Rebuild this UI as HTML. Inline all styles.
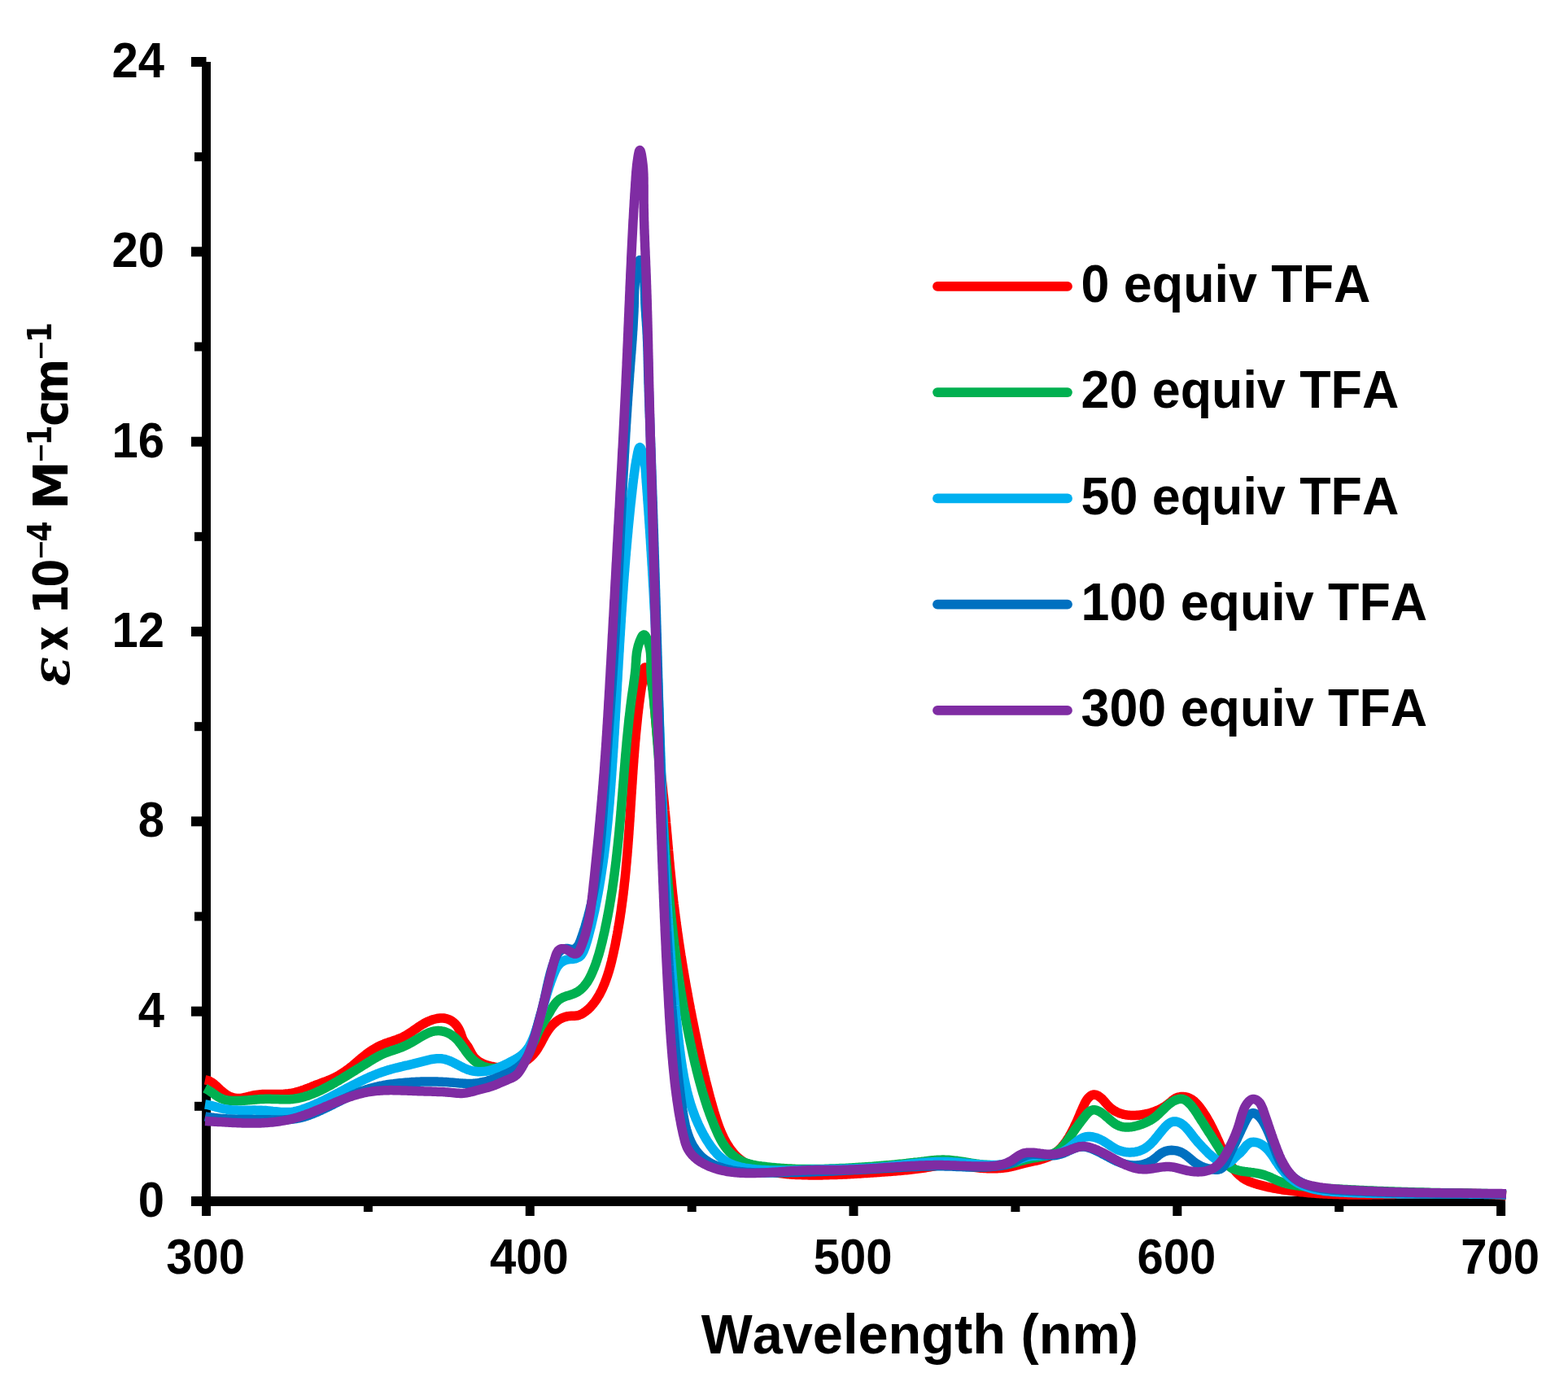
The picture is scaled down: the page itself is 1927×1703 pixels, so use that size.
<!DOCTYPE html>
<html><head><meta charset="utf-8"><title>UV-vis spectra</title><style>html,body{margin:0;padding:0;background:#fff;}svg{display:block;}text{font-kerning:none;}</style></head><body>
<svg xmlns="http://www.w3.org/2000/svg" width="1927" height="1703" viewBox="0 0 1927 1703">
<rect x="248" y="76" width="11" height="1406" fill="#000"/>
<rect x="235" y="1470" width="1615" height="12" fill="#000"/>
<rect x="235" y="1470.0" width="18.5" height="12" fill="#000"/>
<rect x="239" y="1353.8" width="14.5" height="11" fill="#000"/>
<rect x="235" y="1236.7" width="18.5" height="12" fill="#000"/>
<rect x="239" y="1120.5" width="14.5" height="11" fill="#000"/>
<rect x="235" y="1003.3" width="18.5" height="12" fill="#000"/>
<rect x="239" y="887.2" width="14.5" height="11" fill="#000"/>
<rect x="235" y="770.0" width="18.5" height="12" fill="#000"/>
<rect x="239" y="653.8" width="14.5" height="11" fill="#000"/>
<rect x="235" y="536.7" width="18.5" height="12" fill="#000"/>
<rect x="239" y="420.5" width="14.5" height="11" fill="#000"/>
<rect x="235" y="303.3" width="18.5" height="12" fill="#000"/>
<rect x="239" y="187.2" width="14.5" height="11" fill="#000"/>
<rect x="235" y="70.0" width="18.5" height="12" fill="#000"/>
<rect x="248.0" y="1476" width="11" height="18" fill="#000"/>
<rect x="446.9" y="1476" width="11" height="13" fill="#000"/>
<rect x="645.8" y="1476" width="11" height="18" fill="#000"/>
<rect x="844.7" y="1476" width="11" height="13" fill="#000"/>
<rect x="1043.5" y="1476" width="11" height="18" fill="#000"/>
<rect x="1242.4" y="1476" width="11" height="13" fill="#000"/>
<rect x="1441.3" y="1476" width="11" height="18" fill="#000"/>
<rect x="1640.2" y="1476" width="11" height="13" fill="#000"/>
<rect x="1839.1" y="1476" width="11" height="18" fill="#000"/>
<path d="M252.0,1326.8L254.0,1327.2 255.9,1327.8 257.8,1328.6 259.5,1329.5 261.1,1330.6 262.7,1331.7 264.2,1333.0 265.7,1334.3 267.2,1335.7 268.7,1337.1 270.1,1338.5 271.6,1339.8 273.2,1341.2 274.8,1342.5 276.4,1343.7 278.1,1344.9 279.8,1345.9 281.5,1346.9 283.3,1347.7 285.2,1348.4 287.0,1348.9 288.9,1349.3 290.8,1349.5 292.8,1349.5 294.7,1349.4 296.7,1349.2 298.7,1348.9 300.7,1348.5 302.7,1348.0 304.7,1347.5 306.7,1347.0 308.7,1346.6 310.7,1346.1 312.7,1345.7 314.7,1345.4 316.7,1345.1 318.6,1344.9 320.6,1344.7 322.5,1344.6 324.5,1344.6 326.5,1344.5 328.5,1344.5 330.5,1344.5 332.5,1344.5 334.5,1344.5 336.5,1344.5 338.5,1344.5 340.5,1344.5 342.6,1344.5 344.6,1344.4 346.6,1344.4 348.6,1344.3 350.6,1344.1 352.6,1344.0 354.6,1343.8 356.6,1343.5 358.6,1343.2 360.5,1342.8 362.5,1342.4 364.4,1341.9 366.3,1341.4 368.2,1340.8 370.1,1340.2 372.0,1339.5 373.9,1338.9 375.7,1338.2 377.6,1337.5 379.5,1336.7 381.3,1336.0 383.2,1335.2 385.1,1334.5 386.9,1333.7 388.8,1333.0 390.7,1332.3 392.6,1331.6 394.4,1330.9 396.3,1330.2 398.2,1329.5 400.1,1328.8 401.9,1328.1 403.8,1327.3 405.6,1326.6 407.5,1325.8 409.3,1325.0 411.1,1324.1 412.9,1323.2 414.6,1322.3 416.4,1321.3 418.1,1320.3 419.8,1319.2 421.5,1318.1 423.1,1317.0 424.8,1315.9 426.4,1314.7 428.0,1313.5 429.6,1312.3 431.2,1311.0 432.8,1309.8 434.3,1308.5 435.9,1307.2 437.4,1305.9 438.9,1304.6 440.4,1303.3 442.0,1302.0 443.5,1300.7 445.0,1299.4 446.6,1298.1 448.1,1296.9 449.7,1295.6 451.3,1294.4 452.9,1293.3 454.5,1292.1 456.2,1291.0 457.9,1289.9 459.6,1288.9 461.3,1287.9 463.0,1286.9 464.8,1286.0 466.6,1285.1 468.4,1284.3 470.3,1283.5 472.1,1282.7 474.0,1282.0 475.9,1281.3 477.8,1280.6 479.8,1280.0 481.7,1279.4 483.6,1278.7 485.5,1278.1 487.5,1277.4 489.3,1276.7 491.2,1276.0 493.0,1275.2 494.8,1274.4 496.6,1273.5 498.3,1272.5 500.0,1271.6 501.6,1270.5 503.3,1269.5 504.9,1268.4 506.6,1267.3 508.2,1266.1 509.8,1265.0 511.4,1263.9 513.1,1262.7 514.7,1261.6 516.4,1260.5 518.1,1259.4 519.8,1258.4 521.6,1257.4 523.4,1256.4 525.2,1255.5 527.1,1254.6 529.0,1253.9 531.0,1253.1 533.0,1252.5 535.0,1252.0 537.0,1251.5 539.0,1251.2 541.0,1251.0 542.9,1251.0 544.9,1251.0 546.8,1251.3 548.7,1251.7 550.5,1252.2 552.3,1253.0 554.1,1253.9 555.7,1254.9 557.3,1256.2 558.8,1257.5 560.2,1259.0 561.5,1260.5 562.6,1262.2 563.7,1264.0 564.6,1265.8 565.4,1267.7 566.2,1269.6 566.8,1271.5 567.5,1273.4 568.2,1275.3 569.0,1277.1 569.9,1278.8 570.9,1280.4 572.1,1282.0 573.2,1283.6 574.4,1285.2 575.5,1286.9 576.5,1288.8 577.5,1290.6 578.5,1292.5 579.5,1294.4 580.5,1296.1 581.6,1297.8 582.9,1299.4 584.2,1300.8 585.6,1302.1 587.1,1303.3 588.7,1304.4 590.3,1305.3 592.0,1306.2 593.8,1307.1 595.6,1307.8 597.5,1308.5 599.3,1309.1 601.3,1309.6 603.2,1310.1 605.2,1310.5 607.2,1310.9 609.2,1311.2 611.2,1311.4 613.3,1311.5 615.3,1311.6 617.4,1311.7 619.4,1311.6 621.5,1311.5 623.5,1311.3 625.6,1311.1 627.6,1310.8 629.6,1310.4 631.6,1309.9 633.5,1309.4 635.4,1308.8 637.3,1308.1 639.2,1307.3 641.0,1306.5 642.7,1305.6 644.5,1304.6 646.1,1303.6 647.7,1302.5 649.3,1301.3 650.8,1300.1 652.3,1298.7 653.7,1297.4 655.1,1296.0 656.4,1294.5 657.6,1293.0 658.8,1291.4 659.9,1289.8 661.0,1288.1 662.0,1286.4 663.0,1284.7 664.0,1283.0 665.0,1281.2 665.9,1279.4 666.8,1277.6 667.8,1275.9 668.7,1274.1 669.7,1272.3 670.7,1270.6 671.8,1268.9 672.9,1267.2 674.0,1265.5 675.2,1263.9 676.4,1262.3 677.8,1260.7 679.2,1259.2 680.6,1257.8 682.1,1256.5 683.7,1255.2 685.3,1254.0 687.0,1252.9 688.7,1251.9 690.5,1251.0 692.3,1250.2 694.1,1249.6 696.0,1249.1 697.9,1248.6 699.9,1248.4 701.9,1248.3 704.0,1248.2 706.0,1248.2 708.0,1248.1 710.0,1247.8 711.8,1247.2 713.6,1246.5 715.4,1245.6 717.0,1244.6 718.6,1243.5 720.2,1242.3 721.7,1241.1 723.2,1239.8 724.6,1238.5 726.0,1237.1 727.3,1235.6 728.6,1234.1 729.8,1232.5 731.0,1231.0 732.2,1229.3 733.3,1227.6 734.4,1225.9 735.4,1224.2 736.5,1222.4 737.4,1220.6 738.4,1218.8 739.3,1217.0 740.2,1215.1 741.0,1213.2 741.8,1211.3 742.6,1209.4 743.4,1207.5 744.1,1205.6 744.8,1203.7 745.5,1201.8 746.1,1199.9 746.8,1198.0 747.4,1196.1 748.0,1194.2 748.6,1192.3 749.1,1190.3 749.7,1188.4 750.2,1186.5 750.7,1184.5 751.2,1182.6 751.7,1180.7 752.1,1178.7 752.6,1176.8 753.0,1174.9 753.5,1172.9 753.9,1171.0 754.3,1169.0 754.7,1167.1 755.2,1165.1 755.6,1163.2 756.0,1161.3 756.4,1159.3 756.7,1157.4 757.1,1155.4 757.5,1153.4 757.9,1151.5 758.2,1149.5 758.6,1147.6 758.9,1145.6 759.3,1143.7 759.6,1141.7 760.0,1139.7 760.3,1137.8 760.6,1135.8 761.0,1133.8 761.3,1131.9 761.6,1129.9 761.9,1127.9 762.2,1126.0 762.5,1124.0 762.8,1122.0 763.1,1120.1 763.4,1118.1 763.6,1116.1 763.9,1114.1 764.2,1112.2 764.4,1110.2 764.7,1108.2 765.0,1106.2 765.2,1104.3 765.5,1102.3 765.7,1100.3 766.0,1098.3 766.2,1096.3 766.4,1094.3 766.7,1092.4 766.9,1090.4 767.1,1088.4 767.3,1086.4 767.5,1084.4 767.8,1082.4 768.0,1080.4 768.2,1078.5 768.4,1076.5 768.6,1074.5 768.8,1072.5 769.0,1070.5 769.2,1068.5 769.3,1066.5 769.5,1064.5 769.7,1062.5 769.9,1060.5 770.1,1058.5 770.2,1056.5 770.4,1054.5 770.6,1052.5 770.8,1050.6 770.9,1048.6 771.1,1046.6 771.2,1044.6 771.4,1042.6 771.6,1040.6 771.7,1038.6 771.9,1036.6 772.0,1034.6 772.2,1032.6 772.3,1030.6 772.5,1028.6 772.6,1026.6 772.8,1024.6 772.9,1022.6 773.0,1020.6 773.2,1018.6 773.3,1016.6 773.5,1014.6 773.6,1012.6 773.7,1010.6 773.9,1008.6 774.0,1006.6 774.1,1004.6 774.3,1002.6 774.4,1000.5 774.5,998.5 774.7,996.5 774.8,994.5 774.9,992.5 775.0,990.5 775.2,988.5 775.3,986.5 775.4,984.5 775.6,982.5 775.7,980.5 775.8,978.5 775.9,976.5 776.1,974.5 776.2,972.5 776.3,970.5 776.5,968.5 776.6,966.5 776.7,964.5 776.9,962.5 777.0,960.5 777.1,958.5 777.3,956.5 777.4,954.5 777.5,952.5 777.7,950.5 777.8,948.5 777.9,946.5 778.1,944.5 778.2,942.5 778.4,940.5 778.5,938.5 778.7,936.5 778.8,934.5 778.9,932.5 779.1,930.5 779.3,928.5 779.4,926.5 779.6,924.5 779.7,922.5 779.9,920.6 780.0,918.6 780.2,916.6 780.4,914.6 780.5,912.6 780.7,910.6 780.9,908.6 781.1,906.6 781.2,904.6 781.4,902.6 781.6,900.7 781.8,898.7 782.0,896.7 782.2,894.7 782.4,892.7 782.6,890.7 782.8,888.7 783.0,886.8 783.2,884.8 783.4,882.8 783.6,880.8 783.8,878.8 784.0,876.9 784.3,874.9 784.5,872.9 784.7,870.9 785.0,869.0 785.2,867.0 785.4,865.0 785.7,863.1 786.0,861.1 786.2,859.2 786.5,857.2 786.8,855.3 787.0,853.3 787.3,851.4 787.6,849.5 787.9,847.6 788.2,845.6 788.5,843.7 788.9,841.8 789.2,839.9 789.5,838.0 789.8,836.0 790.1,833.9 790.5,831.7 790.7,829.3 791.0,826.7 791.3,824.2 791.6,822.0 792.0,820.5 792.6,819.9 793.3,820.5 794.1,822.0 795.0,824.1 796.0,826.5 797.0,829.0 797.9,831.5 798.8,833.7 799.6,835.8 800.2,837.6 800.8,839.3 801.2,840.9 801.6,842.6 802.0,844.3 802.3,846.0 802.6,847.8 802.8,849.7 803.1,851.6 803.3,853.5 803.5,855.5 803.6,857.5 803.8,859.5 803.9,861.5 804.1,863.5 804.2,865.6 804.4,867.6 804.5,869.6 804.7,871.6 804.9,873.7 805.0,875.7 805.2,877.7 805.3,879.7 805.5,881.7 805.7,883.7 805.9,885.7 806.0,887.7 806.2,889.8 806.4,891.8 806.6,893.8 806.8,895.8 807.0,897.8 807.2,899.8 807.3,901.8 807.5,903.8 807.7,905.8 807.9,907.8 808.1,909.8 808.3,911.8 808.5,913.8 808.7,915.8 808.9,917.8 809.1,919.7 809.3,921.7 809.6,923.7 809.8,925.7 810.0,927.7 810.2,929.7 810.4,931.7 810.6,933.7 810.8,935.7 811.0,937.6 811.2,939.6 811.5,941.6 811.7,943.6 811.9,945.6 812.1,947.6 812.3,949.5 812.5,951.5 812.7,953.5 812.9,955.5 813.2,957.5 813.4,959.5 813.6,961.4 813.8,963.4 814.0,965.4 814.2,967.4 814.4,969.4 814.6,971.4 814.8,973.3 815.0,975.3 815.3,977.3 815.5,979.3 815.7,981.3 815.9,983.3 816.1,985.2 816.3,987.2 816.5,989.2 816.7,991.2 816.9,993.2 817.0,995.2 817.2,997.2 817.4,999.1 817.6,1001.1 817.8,1003.1 818.0,1005.1 818.2,1007.1 818.4,1009.1 818.5,1011.1 818.7,1013.1 818.9,1015.1 819.1,1017.1 819.3,1019.1 819.4,1021.0 819.6,1023.0 819.8,1025.0 820.0,1027.0 820.1,1029.0 820.3,1031.0 820.5,1033.0 820.7,1035.0 820.8,1037.0 821.0,1039.0 821.2,1041.0 821.4,1043.0 821.5,1045.0 821.7,1047.0 821.9,1049.0 822.1,1051.0 822.2,1053.0 822.4,1055.0 822.6,1057.0 822.8,1059.0 823.0,1060.9 823.1,1062.9 823.3,1064.9 823.5,1066.9 823.7,1068.9 823.9,1070.9 824.1,1072.9 824.3,1074.9 824.5,1076.9 824.7,1078.9 824.9,1080.9 825.1,1082.9 825.3,1084.9 825.5,1086.9 825.7,1088.9 825.9,1090.9 826.1,1092.8 826.3,1094.8 826.5,1096.8 826.7,1098.8 827.0,1100.8 827.2,1102.8 827.4,1104.8 827.6,1106.8 827.9,1108.8 828.1,1110.8 828.4,1112.7 828.6,1114.7 828.8,1116.7 829.1,1118.7 829.3,1120.7 829.6,1122.7 829.8,1124.7 830.1,1126.6 830.4,1128.6 830.6,1130.6 830.9,1132.6 831.1,1134.6 831.4,1136.6 831.7,1138.5 832.0,1140.5 832.2,1142.5 832.5,1144.5 832.8,1146.5 833.1,1148.4 833.4,1150.4 833.6,1152.4 833.9,1154.4 834.2,1156.4 834.5,1158.3 834.8,1160.3 835.1,1162.3 835.4,1164.3 835.7,1166.3 836.0,1168.2 836.3,1170.2 836.6,1172.2 836.9,1174.2 837.3,1176.1 837.6,1178.1 837.9,1180.1 838.2,1182.1 838.5,1184.0 838.9,1186.0 839.2,1188.0 839.5,1190.0 839.8,1191.9 840.2,1193.9 840.5,1195.9 840.8,1197.8 841.2,1199.8 841.5,1201.8 841.9,1203.8 842.2,1205.7 842.5,1207.7 842.9,1209.7 843.2,1211.6 843.6,1213.6 844.0,1215.6 844.3,1217.5 844.7,1219.5 845.0,1221.5 845.4,1223.4 845.7,1225.4 846.1,1227.4 846.5,1229.3 846.8,1231.3 847.2,1233.3 847.6,1235.2 848.0,1237.2 848.3,1239.2 848.7,1241.1 849.1,1243.1 849.5,1245.1 849.8,1247.0 850.2,1249.0 850.6,1250.9 851.0,1252.9 851.4,1254.9 851.8,1256.8 852.2,1258.8 852.6,1260.7 853.0,1262.7 853.4,1264.7 853.8,1266.6 854.1,1268.6 854.6,1270.5 855.0,1272.5 855.4,1274.5 855.8,1276.4 856.2,1278.4 856.6,1280.3 857.0,1282.3 857.4,1284.3 857.8,1286.2 858.2,1288.2 858.7,1290.1 859.1,1292.1 859.5,1294.0 859.9,1296.0 860.4,1297.9 860.8,1299.9 861.2,1301.8 861.7,1303.8 862.1,1305.8 862.5,1307.7 863.0,1309.7 863.4,1311.6 863.9,1313.6 864.3,1315.5 864.8,1317.4 865.3,1319.4 865.7,1321.3 866.2,1323.3 866.7,1325.2 867.1,1327.2 867.6,1329.1 868.1,1331.1 868.6,1333.0 869.1,1334.9 869.6,1336.9 870.1,1338.8 870.6,1340.8 871.1,1342.7 871.6,1344.6 872.1,1346.6 872.6,1348.5 873.2,1350.4 873.7,1352.4 874.2,1354.3 874.8,1356.2 875.3,1358.2 875.8,1360.1 876.4,1362.0 877.0,1363.9 877.5,1365.9 878.1,1367.8 878.7,1369.7 879.3,1371.6 879.9,1373.5 880.5,1375.4 881.1,1377.3 881.8,1379.2 882.4,1381.1 883.1,1383.0 883.8,1384.9 884.5,1386.8 885.2,1388.6 886.0,1390.5 886.8,1392.3 887.6,1394.1 888.4,1395.9 889.3,1397.7 890.2,1399.5 891.1,1401.3 892.1,1403.1 893.1,1404.8 894.1,1406.5 895.2,1408.2 896.3,1409.9 897.4,1411.5 898.6,1413.2 899.8,1414.7 901.1,1416.3 902.4,1417.8 903.7,1419.2 905.1,1420.6 906.6,1422.0 908.1,1423.3 909.6,1424.6 911.2,1425.8 912.8,1426.9 914.4,1428.0 916.2,1429.0 917.9,1430.0 919.7,1430.9 921.5,1431.8 923.3,1432.6 925.2,1433.4 927.1,1434.1 929.0,1434.8 930.9,1435.5 932.9,1436.1 934.8,1436.7 936.7,1437.2 938.7,1437.8 940.6,1438.3 942.6,1438.8 944.5,1439.2 946.5,1439.6 948.5,1440.0 950.4,1440.4 952.4,1440.7 954.4,1441.0 956.3,1441.3 958.3,1441.6 960.3,1441.9 962.3,1442.1 964.2,1442.3 966.2,1442.5 968.2,1442.7 970.2,1442.9 972.2,1443.0 974.2,1443.2 976.2,1443.3 978.2,1443.4 980.1,1443.5 982.1,1443.6 984.1,1443.6 986.1,1443.7 988.1,1443.8 990.1,1443.8 992.1,1443.8 994.1,1443.9 996.1,1443.9 998.1,1443.9 1000.1,1443.9 1002.1,1443.9 1004.1,1443.9 1006.1,1443.9 1008.1,1443.9 1010.1,1443.9 1012.1,1443.8 1014.1,1443.8 1016.1,1443.7 1018.1,1443.7 1020.1,1443.6 1022.1,1443.6 1024.1,1443.5 1026.1,1443.5 1028.1,1443.4 1030.1,1443.3 1032.1,1443.2 1034.1,1443.2 1036.1,1443.1 1038.1,1443.0 1040.1,1442.9 1042.1,1442.8 1044.1,1442.7 1046.1,1442.6 1048.2,1442.5 1050.2,1442.3 1052.2,1442.2 1054.2,1442.1 1056.2,1442.0 1058.2,1441.9 1060.2,1441.7 1062.2,1441.6 1064.2,1441.5 1066.2,1441.4 1068.2,1441.2 1070.2,1441.1 1072.2,1441.0 1074.2,1440.8 1076.2,1440.7 1078.2,1440.5 1080.1,1440.4 1082.1,1440.3 1084.1,1440.1 1086.1,1440.0 1088.1,1439.8 1090.1,1439.7 1092.1,1439.6 1094.1,1439.4 1096.1,1439.3 1098.1,1439.1 1100.1,1439.0 1102.1,1438.8 1104.1,1438.6 1106.1,1438.5 1108.0,1438.3 1110.0,1438.1 1112.0,1437.9 1114.0,1437.7 1116.0,1437.5 1118.0,1437.3 1120.0,1437.1 1121.9,1436.9 1123.9,1436.6 1125.9,1436.4 1127.9,1436.1 1129.9,1435.9 1131.9,1435.6 1133.8,1435.3 1135.8,1435.0 1137.8,1434.7 1139.8,1434.3 1141.7,1434.0 1143.7,1433.7 1145.7,1433.3 1147.7,1433.0 1149.7,1432.6 1151.6,1432.3 1153.6,1432.0 1155.6,1431.8 1157.6,1431.6 1159.6,1431.4 1161.6,1431.3 1163.6,1431.2 1165.6,1431.2 1167.6,1431.3 1169.6,1431.3 1171.6,1431.4 1173.6,1431.6 1175.6,1431.7 1177.6,1431.9 1179.6,1432.2 1181.6,1432.4 1183.5,1432.6 1185.5,1432.9 1187.5,1433.1 1189.5,1433.4 1191.5,1433.6 1193.5,1433.9 1195.4,1434.1 1197.4,1434.4 1199.4,1434.6 1201.4,1434.8 1203.3,1435.0 1205.3,1435.2 1207.3,1435.3 1209.3,1435.5 1211.3,1435.6 1213.3,1435.7 1215.3,1435.7 1217.3,1435.8 1219.3,1435.8 1221.4,1435.8 1223.4,1435.7 1225.4,1435.7 1227.4,1435.6 1229.4,1435.4 1231.4,1435.3 1233.4,1435.0 1235.4,1434.8 1237.4,1434.5 1239.3,1434.2 1241.3,1433.8 1243.2,1433.4 1245.1,1432.9 1247.0,1432.5 1248.9,1432.0 1250.8,1431.4 1252.7,1430.9 1254.6,1430.4 1256.6,1429.9 1258.5,1429.4 1260.5,1428.9 1262.4,1428.5 1264.4,1428.0 1266.4,1427.6 1268.4,1427.2 1270.4,1426.7 1272.4,1426.3 1274.4,1425.8 1276.4,1425.3 1278.4,1424.8 1280.3,1424.3 1282.2,1423.7 1284.1,1423.1 1286.0,1422.4 1287.8,1421.7 1289.7,1420.9 1291.4,1420.0 1293.1,1419.1 1294.8,1418.1 1296.4,1417.0 1298.0,1415.8 1299.5,1414.6 1301.0,1413.3 1302.4,1411.9 1303.8,1410.5 1305.1,1409.0 1306.4,1407.4 1307.7,1405.8 1308.9,1404.2 1310.1,1402.6 1311.2,1400.9 1312.3,1399.2 1313.4,1397.5 1314.4,1395.7 1315.4,1394.0 1316.4,1392.2 1317.3,1390.5 1318.2,1388.7 1319.1,1387.0 1320.0,1385.2 1320.8,1383.4 1321.7,1381.6 1322.5,1379.8 1323.3,1378.1 1324.1,1376.3 1324.9,1374.4 1325.7,1372.6 1326.5,1370.8 1327.2,1369.0 1328.0,1367.1 1328.8,1365.2 1329.7,1363.4 1330.5,1361.5 1331.3,1359.6 1332.2,1357.7 1333.1,1355.8 1334.0,1354.0 1335.1,1352.2 1336.2,1350.6 1337.4,1349.1 1338.8,1347.7 1340.3,1346.5 1341.9,1345.6 1343.7,1345.1 1345.5,1345.0 1347.3,1345.4 1349.1,1346.2 1350.8,1347.3 1352.5,1348.6 1354.2,1350.0 1355.7,1351.6 1357.1,1353.1 1358.5,1354.7 1359.9,1356.3 1361.3,1357.8 1362.7,1359.3 1364.1,1360.7 1365.6,1361.9 1367.1,1363.1 1368.7,1364.2 1370.4,1365.2 1372.1,1366.1 1373.8,1366.9 1375.6,1367.7 1377.5,1368.3 1379.3,1368.8 1381.3,1369.3 1383.2,1369.7 1385.2,1370.0 1387.2,1370.2 1389.2,1370.4 1391.2,1370.5 1393.2,1370.5 1395.3,1370.4 1397.3,1370.3 1399.4,1370.2 1401.4,1369.9 1403.5,1369.6 1405.5,1369.3 1407.5,1368.9 1409.5,1368.5 1411.5,1368.0 1413.4,1367.5 1415.3,1366.9 1417.2,1366.3 1419.1,1365.6 1420.9,1364.9 1422.7,1364.2 1424.5,1363.4 1426.2,1362.5 1427.9,1361.6 1429.6,1360.7 1431.3,1359.7 1432.9,1358.6 1434.5,1357.4 1436.1,1356.2 1437.6,1354.9 1439.2,1353.6 1440.7,1352.2 1442.3,1351.0 1444.1,1349.9 1445.9,1348.9 1447.8,1348.2 1449.9,1347.8 1452.0,1347.5 1454.1,1347.5 1456.2,1347.7 1458.2,1348.1 1460.0,1348.6 1461.8,1349.4 1463.5,1350.3 1465.2,1351.3 1466.8,1352.4 1468.3,1353.7 1469.7,1355.1 1471.1,1356.5 1472.4,1358.0 1473.7,1359.6 1475.0,1361.2 1476.2,1362.9 1477.4,1364.5 1478.5,1366.2 1479.6,1367.9 1480.7,1369.5 1481.8,1371.2 1482.8,1372.9 1483.8,1374.7 1484.8,1376.4 1485.8,1378.1 1486.8,1379.9 1487.7,1381.6 1488.6,1383.4 1489.5,1385.1 1490.4,1386.9 1491.3,1388.7 1492.2,1390.5 1493.0,1392.3 1493.9,1394.1 1494.7,1395.9 1495.5,1397.7 1496.4,1399.6 1497.2,1401.4 1498.0,1403.2 1498.8,1405.1 1499.6,1406.9 1500.5,1408.8 1501.3,1410.6 1502.1,1412.4 1503.0,1414.3 1503.8,1416.1 1504.7,1417.9 1505.6,1419.7 1506.6,1421.5 1507.5,1423.2 1508.5,1425.0 1509.5,1426.7 1510.5,1428.4 1511.6,1430.1 1512.7,1431.8 1513.8,1433.4 1515.0,1435.0 1516.2,1436.6 1517.4,1438.1 1518.7,1439.6 1520.1,1441.1 1521.5,1442.5 1522.9,1443.8 1524.4,1445.1 1526.0,1446.4 1527.6,1447.6 1529.2,1448.6 1530.9,1449.7 1532.7,1450.6 1534.5,1451.4 1536.3,1452.2 1538.2,1452.9 1540.1,1453.6 1542.1,1454.2 1544.0,1454.8 1545.9,1455.4 1547.9,1455.9 1549.8,1456.4 1551.7,1456.9 1553.7,1457.4 1555.6,1457.9 1557.6,1458.3 1559.6,1458.8 1561.5,1459.2 1563.5,1459.6 1565.4,1460.0 1567.4,1460.3 1569.4,1460.7 1571.3,1461.0 1573.3,1461.3 1575.3,1461.7 1577.2,1462.0 1579.2,1462.3 1581.2,1462.6 1583.1,1462.8 1585.1,1463.1 1587.1,1463.4 1589.1,1463.6 1591.0,1463.8 1593.0,1464.1 1595.0,1464.3 1597.0,1464.5 1599.0,1464.7 1601.0,1464.9 1602.9,1465.1 1604.9,1465.3 1606.9,1465.5 1608.9,1465.7 1610.9,1465.8 1612.9,1466.0 1614.9,1466.1 1616.9,1466.3 1618.8,1466.4 1620.8,1466.5 1622.8,1466.7 1624.8,1466.8 1626.8,1466.9 1628.8,1467.0 1630.8,1467.1 1632.8,1467.2 1634.8,1467.3 1636.8,1467.3 1638.8,1467.4 1640.8,1467.5 1642.8,1467.6 1644.8,1467.6 1646.8,1467.7 1648.8,1467.7 1650.8,1467.8 1652.8,1467.8 1654.8,1467.8 1656.8,1467.9 1658.8,1467.9 1660.8,1467.9 1662.8,1467.9 1664.8,1467.9 1666.9,1467.9 1668.9,1467.9 1670.9,1467.9 1672.9,1467.9 1674.9,1467.9 1676.9,1467.9 1678.9,1467.9 1680.9,1467.9 1682.9,1467.9 1684.9,1467.9 1686.9,1467.8 1689.0,1467.8 1691.0,1467.8 1693.0,1467.8 1695.0,1467.7 1697.0,1467.7 1699.0,1467.7 1701.0,1467.6 1703.0,1467.6 1705.0,1467.5 1707.1,1467.5 1709.1,1467.5 1711.1,1467.4 1713.1,1467.4 1715.1,1467.3 1717.1,1467.3 1719.1,1467.2 1721.1,1467.2 1723.2,1467.1 1725.2,1467.1 1727.2,1467.0 1729.2,1467.0 1731.2,1466.9 1733.2,1466.9 1735.2,1466.9 1737.2,1466.8 1739.2,1466.8 1741.3,1466.7 1743.3,1466.7 1745.3,1466.6 1747.3,1466.6 1749.3,1466.5 1751.3,1466.5 1753.3,1466.5 1755.3,1466.4 1757.3,1466.4 1759.3,1466.4 1761.3,1466.3 1763.3,1466.3 1765.4,1466.3 1767.4,1466.2 1769.4,1466.2 1771.4,1466.2 1773.4,1466.2 1775.4,1466.2 1777.4,1466.2 1779.4,1466.2 1781.4,1466.1 1783.4,1466.1 1785.4,1466.1 1787.4,1466.2 1789.4,1466.2 1791.4,1466.2 1793.4,1466.2 1795.4,1466.2 1797.4,1466.2 1799.4,1466.3 1801.4,1466.3 1803.4,1466.3 1805.4,1466.4 1807.4,1466.4 1809.4,1466.5 1811.4,1466.6 1813.3,1466.6 1815.3,1466.7 1817.3,1466.8 1819.3,1466.8 1821.3,1466.9 1823.3,1467.0 1825.3,1467.1 1827.3,1467.2 1829.2,1467.3 1831.2,1467.5 1833.2,1467.6 1835.2,1467.7 1837.2,1467.8 1839.1,1468.0 1841.1,1468.1 1843.1,1468.3 1845.1,1468.5 1847.1,1468.6 1849.0,1468.8 1851.0,1469.0" fill="none" stroke="#FF0000" stroke-width="11.5" stroke-linejoin="round" stroke-linecap="butt"/>
<path d="M252.0,1337.2L253.7,1338.1 255.4,1339.1 257.1,1340.1 258.8,1341.3 260.5,1342.4 262.1,1343.6 263.8,1344.8 265.5,1346.0 267.2,1347.1 268.9,1348.2 270.7,1349.1 272.5,1350.0 274.3,1350.7 276.2,1351.3 278.1,1351.7 280.1,1352.1 282.0,1352.3 284.0,1352.5 286.0,1352.6 288.0,1352.6 290.0,1352.6 292.0,1352.6 294.0,1352.5 296.0,1352.4 298.0,1352.3 300.0,1352.2 302.0,1352.0 304.0,1351.9 305.9,1351.7 307.9,1351.5 309.9,1351.4 311.9,1351.2 313.9,1351.0 315.9,1350.9 317.9,1350.7 319.9,1350.6 321.9,1350.5 323.9,1350.4 325.9,1350.3 327.9,1350.3 329.9,1350.3 331.9,1350.3 333.9,1350.4 335.9,1350.4 337.9,1350.5 339.9,1350.6 341.9,1350.6 343.9,1350.7 346.0,1350.8 348.0,1350.8 350.0,1350.8 352.0,1350.8 353.9,1350.8 355.9,1350.7 357.9,1350.5 359.9,1350.4 361.8,1350.1 363.8,1349.8 365.8,1349.5 367.7,1349.1 369.6,1348.7 371.6,1348.2 373.5,1347.7 375.4,1347.1 377.3,1346.5 379.2,1345.9 381.1,1345.2 382.9,1344.5 384.8,1343.8 386.7,1343.0 388.5,1342.2 390.4,1341.4 392.2,1340.5 394.0,1339.7 395.9,1338.8 397.7,1337.9 399.5,1336.9 401.3,1336.0 403.1,1335.0 404.8,1334.1 406.6,1333.1 408.4,1332.1 410.1,1331.1 411.9,1330.1 413.6,1329.1 415.3,1328.1 417.1,1327.1 418.8,1326.1 420.5,1325.1 422.2,1324.0 423.9,1323.0 425.6,1322.0 427.3,1321.0 429.0,1319.9 430.6,1318.9 432.3,1317.8 434.0,1316.8 435.7,1315.8 437.4,1314.7 439.0,1313.7 440.7,1312.6 442.4,1311.6 444.1,1310.5 445.8,1309.4 447.5,1308.4 449.2,1307.3 450.9,1306.3 452.6,1305.2 454.3,1304.1 456.0,1303.1 457.7,1302.0 459.4,1301.0 461.2,1300.0 462.9,1299.0 464.7,1298.0 466.5,1297.1 468.3,1296.2 470.1,1295.3 472.0,1294.5 473.8,1293.7 475.7,1293.0 477.6,1292.3 479.5,1291.7 481.4,1291.0 483.3,1290.4 485.2,1289.8 487.1,1289.2 489.0,1288.5 490.8,1287.9 492.7,1287.2 494.5,1286.4 496.3,1285.7 498.1,1284.8 499.9,1284.0 501.6,1283.1 503.3,1282.2 505.1,1281.2 506.8,1280.2 508.5,1279.2 510.2,1278.2 512.0,1277.2 513.7,1276.1 515.5,1275.0 517.3,1274.0 519.1,1273.0 520.9,1271.9 522.7,1271.0 524.5,1270.1 526.4,1269.2 528.3,1268.5 530.2,1267.8 532.1,1267.3 534.0,1266.9 536.0,1266.7 537.9,1266.6 539.9,1266.6 541.8,1266.8 543.8,1267.1 545.7,1267.5 547.6,1268.1 549.5,1268.8 551.3,1269.7 553.1,1270.6 554.8,1271.6 556.4,1272.8 558.0,1274.0 559.5,1275.3 560.9,1276.7 562.3,1278.2 563.7,1279.7 564.9,1281.3 566.2,1282.9 567.4,1284.5 568.6,1286.2 569.8,1287.8 571.0,1289.4 572.1,1291.1 573.3,1292.7 574.5,1294.3 575.8,1295.9 577.0,1297.4 578.3,1298.9 579.7,1300.4 581.1,1301.8 582.6,1303.1 584.1,1304.4 585.7,1305.6 587.4,1306.7 589.1,1307.8 590.8,1308.7 592.6,1309.6 594.4,1310.4 596.3,1311.0 598.2,1311.6 600.1,1312.0 602.0,1312.3 604.0,1312.5 606.0,1312.6 608.0,1312.5 610.0,1312.3 612.0,1312.0 614.0,1311.7 616.0,1311.2 618.0,1310.6 620.0,1309.9 621.9,1309.2 623.8,1308.4 625.6,1307.6 627.4,1306.6 629.1,1305.7 630.8,1304.6 632.5,1303.6 634.1,1302.5 635.7,1301.3 637.3,1300.1 638.9,1298.9 640.4,1297.7 641.9,1296.4 643.4,1295.1 644.8,1293.8 646.3,1292.4 647.8,1291.0 649.2,1289.7 650.6,1288.2 651.9,1286.7 653.1,1285.2 654.2,1283.5 655.2,1281.8 656.2,1280.1 657.1,1278.3 657.9,1276.4 658.7,1274.6 659.5,1272.7 660.3,1270.8 661.1,1269.0 661.9,1267.2 662.8,1265.4 663.7,1263.6 664.6,1261.9 665.6,1260.2 666.6,1258.5 667.6,1256.8 668.6,1255.1 669.6,1253.4 670.7,1251.8 671.7,1250.1 672.8,1248.4 673.8,1246.6 674.9,1244.9 675.9,1243.1 676.9,1241.3 678.0,1239.5 679.1,1237.8 680.2,1236.1 681.4,1234.4 682.6,1232.8 683.9,1231.3 685.3,1229.9 686.7,1228.6 688.3,1227.5 690.0,1226.5 691.7,1225.6 693.6,1224.8 695.5,1224.1 697.5,1223.5 699.5,1222.9 701.4,1222.3 703.4,1221.6 705.3,1220.9 707.1,1220.1 708.8,1219.2 710.5,1218.2 712.1,1217.1 713.6,1215.9 715.0,1214.7 716.4,1213.3 717.7,1211.9 718.9,1210.4 720.1,1208.9 721.3,1207.3 722.4,1205.6 723.4,1203.9 724.4,1202.2 725.3,1200.4 726.2,1198.6 727.1,1196.7 727.9,1194.9 728.7,1193.0 729.5,1191.1 730.3,1189.2 731.0,1187.3 731.7,1185.4 732.4,1183.5 733.0,1181.6 733.7,1179.7 734.3,1177.7 734.9,1175.8 735.5,1173.9 736.1,1172.0 736.6,1170.1 737.2,1168.1 737.7,1166.2 738.2,1164.3 738.7,1162.3 739.2,1160.4 739.7,1158.5 740.2,1156.5 740.6,1154.6 741.1,1152.6 741.5,1150.7 742.0,1148.7 742.4,1146.8 742.9,1144.8 743.3,1142.9 743.7,1140.9 744.1,1139.0 744.5,1137.0 744.9,1135.1 745.3,1133.1 745.7,1131.2 746.1,1129.2 746.5,1127.2 746.9,1125.3 747.2,1123.3 747.6,1121.4 748.0,1119.4 748.3,1117.4 748.7,1115.5 749.0,1113.5 749.4,1111.5 749.7,1109.5 750.0,1107.6 750.4,1105.6 750.7,1103.6 751.0,1101.7 751.3,1099.7 751.6,1097.7 752.0,1095.7 752.3,1093.8 752.6,1091.8 752.8,1089.8 753.1,1087.8 753.4,1085.8 753.7,1083.9 754.0,1081.9 754.3,1079.9 754.5,1077.9 754.8,1075.9 755.1,1073.9 755.3,1072.0 755.6,1070.0 755.8,1068.0 756.1,1066.0 756.3,1064.0 756.6,1062.0 756.8,1060.0 757.1,1058.0 757.3,1056.1 757.5,1054.1 757.7,1052.1 758.0,1050.1 758.2,1048.1 758.4,1046.1 758.6,1044.1 758.8,1042.1 759.1,1040.1 759.3,1038.1 759.5,1036.1 759.7,1034.1 759.9,1032.2 760.1,1030.2 760.3,1028.2 760.5,1026.2 760.7,1024.2 760.9,1022.2 761.1,1020.2 761.2,1018.2 761.4,1016.2 761.6,1014.2 761.8,1012.2 762.0,1010.2 762.2,1008.2 762.3,1006.2 762.5,1004.2 762.7,1002.2 762.9,1000.2 763.0,998.2 763.2,996.3 763.4,994.3 763.5,992.3 763.7,990.3 763.9,988.3 764.0,986.3 764.2,984.3 764.4,982.3 764.5,980.3 764.7,978.3 764.9,976.3 765.0,974.3 765.2,972.3 765.3,970.3 765.5,968.4 765.7,966.4 765.8,964.4 766.0,962.4 766.1,960.4 766.3,958.4 766.5,956.4 766.6,954.4 766.8,952.4 766.9,950.5 767.1,948.5 767.3,946.5 767.4,944.5 767.6,942.5 767.8,940.5 767.9,938.5 768.1,936.6 768.2,934.6 768.4,932.6 768.6,930.6 768.7,928.6 768.9,926.6 769.1,924.7 769.3,922.7 769.4,920.7 769.6,918.7 769.8,916.7 770.0,914.7 770.1,912.8 770.3,910.8 770.5,908.8 770.7,906.8 770.9,904.8 771.1,902.8 771.3,900.8 771.5,898.9 771.7,896.9 771.9,894.9 772.1,892.9 772.3,890.9 772.5,888.9 772.7,886.9 772.9,884.9 773.1,882.9 773.4,881.0 773.6,879.0 773.8,877.0 774.1,875.0 774.3,873.0 774.5,871.0 774.8,869.0 775.0,867.0 775.3,865.0 775.5,863.0 775.8,861.0 776.1,858.9 776.3,856.9 776.6,854.9 776.9,852.9 777.2,850.9 777.5,848.9 777.8,846.9 778.1,844.9 778.4,842.8 778.7,840.8 778.9,838.8 779.2,836.8 779.5,834.8 779.8,832.8 780.0,830.9 780.3,828.9 780.5,826.9 780.7,825.0 780.9,823.0 781.1,821.1 781.2,819.2 781.3,817.3 781.4,815.4 781.6,813.6 781.7,811.7 781.8,809.8 781.9,807.9 782.1,806.0 782.3,804.1 782.5,802.2 782.9,800.2 783.2,798.3 783.7,796.3 784.2,794.2 784.8,792.1 785.5,790.0 786.3,787.8 787.2,785.6 788.2,783.4 789.3,781.5 790.5,780.2 791.6,779.9 792.8,780.7 793.9,782.4 794.9,784.5 795.8,786.8 796.6,789.0 797.3,791.2 797.9,793.3 798.4,795.4 798.8,797.5 799.1,799.5 799.4,801.5 799.6,803.4 799.7,805.4 799.8,807.3 799.9,809.2 799.9,811.1 799.9,813.0 799.9,814.9 799.9,816.8 799.9,818.6 799.9,820.5 800.0,822.4 800.0,824.4 800.1,826.3 800.2,828.2 800.3,830.2 800.5,832.2 800.6,834.2 800.8,836.2 801.0,838.2 801.2,840.2 801.5,842.2 801.7,844.2 801.9,846.2 802.2,848.2 802.4,850.2 802.6,852.3 802.9,854.3 803.1,856.3 803.3,858.3 803.5,860.3 803.7,862.3 803.9,864.3 804.1,866.3 804.3,868.3 804.5,870.3 804.7,872.3 804.9,874.3 805.1,876.3 805.3,878.3 805.4,880.3 805.6,882.3 805.8,884.3 805.9,886.3 806.1,888.3 806.3,890.3 806.4,892.3 806.6,894.2 806.8,896.2 806.9,898.2 807.1,900.2 807.2,902.2 807.4,904.2 807.5,906.2 807.7,908.2 807.8,910.2 808.0,912.1 808.1,914.1 808.3,916.1 808.4,918.1 808.6,920.1 808.7,922.1 808.9,924.1 809.0,926.1 809.2,928.1 809.3,930.1 809.5,932.1 809.6,934.1 809.8,936.0 809.9,938.0 810.0,940.0 810.2,942.0 810.3,944.0 810.5,946.0 810.6,948.0 810.8,950.0 810.9,952.0 811.0,954.0 811.2,956.0 811.3,958.0 811.5,960.0 811.6,962.0 811.8,964.0 811.9,965.9 812.0,967.9 812.2,969.9 812.3,971.9 812.5,973.9 812.6,975.9 812.7,977.9 812.9,979.9 813.0,981.9 813.2,983.9 813.3,985.9 813.4,987.9 813.6,989.9 813.7,991.9 813.9,993.9 814.0,995.9 814.2,997.9 814.3,999.9 814.4,1001.9 814.6,1003.9 814.7,1005.9 814.9,1007.9 815.0,1009.8 815.2,1011.8 815.3,1013.8 815.5,1015.8 815.6,1017.8 815.8,1019.8 815.9,1021.8 816.0,1023.8 816.2,1025.8 816.3,1027.8 816.5,1029.8 816.6,1031.8 816.8,1033.8 817.0,1035.8 817.1,1037.8 817.3,1039.8 817.4,1041.8 817.6,1043.8 817.7,1045.8 817.9,1047.8 818.0,1049.8 818.2,1051.8 818.4,1053.8 818.5,1055.7 818.7,1057.7 818.8,1059.7 819.0,1061.7 819.2,1063.7 819.3,1065.7 819.5,1067.7 819.7,1069.7 819.8,1071.7 820.0,1073.7 820.2,1075.7 820.3,1077.7 820.5,1079.7 820.7,1081.7 820.9,1083.7 821.0,1085.7 821.2,1087.7 821.4,1089.6 821.6,1091.6 821.8,1093.6 821.9,1095.6 822.1,1097.6 822.3,1099.6 822.5,1101.6 822.7,1103.6 822.9,1105.6 823.1,1107.6 823.3,1109.6 823.5,1111.6 823.7,1113.6 823.9,1115.5 824.1,1117.5 824.3,1119.5 824.5,1121.5 824.7,1123.5 824.9,1125.5 825.1,1127.5 825.3,1129.5 825.5,1131.5 825.7,1133.4 825.9,1135.4 826.2,1137.4 826.4,1139.4 826.6,1141.4 826.8,1143.4 827.0,1145.4 827.3,1147.4 827.5,1149.3 827.7,1151.3 828.0,1153.3 828.2,1155.3 828.4,1157.3 828.7,1159.3 828.9,1161.3 829.2,1163.2 829.4,1165.2 829.7,1167.2 829.9,1169.2 830.2,1171.2 830.4,1173.2 830.7,1175.1 830.9,1177.1 831.2,1179.1 831.5,1181.1 831.7,1183.1 832.0,1185.0 832.3,1187.0 832.5,1189.0 832.8,1191.0 833.1,1193.0 833.4,1194.9 833.7,1196.9 833.9,1198.9 834.2,1200.9 834.5,1202.9 834.8,1204.8 835.1,1206.8 835.4,1208.8 835.7,1210.8 836.0,1212.7 836.3,1214.7 836.6,1216.7 836.9,1218.7 837.3,1220.6 837.6,1222.6 837.9,1224.6 838.2,1226.6 838.5,1228.5 838.9,1230.5 839.2,1232.5 839.5,1234.4 839.9,1236.4 840.2,1238.4 840.6,1240.3 840.9,1242.3 841.3,1244.3 841.6,1246.2 842.0,1248.2 842.3,1250.2 842.7,1252.1 843.1,1254.1 843.4,1256.1 843.8,1258.0 844.2,1260.0 844.6,1262.0 844.9,1263.9 845.3,1265.9 845.7,1267.9 846.1,1269.8 846.5,1271.8 846.9,1273.7 847.3,1275.7 847.7,1277.7 848.1,1279.6 848.5,1281.6 849.0,1283.5 849.4,1285.5 849.8,1287.4 850.2,1289.4 850.7,1291.3 851.1,1293.3 851.5,1295.3 852.0,1297.2 852.4,1299.2 852.9,1301.1 853.3,1303.1 853.8,1305.0 854.2,1307.0 854.7,1308.9 855.2,1310.9 855.7,1312.8 856.1,1314.8 856.6,1316.7 857.1,1318.6 857.6,1320.6 858.1,1322.5 858.6,1324.5 859.1,1326.4 859.6,1328.3 860.2,1330.3 860.7,1332.2 861.2,1334.1 861.8,1336.0 862.3,1338.0 862.9,1339.9 863.4,1341.8 864.0,1343.7 864.6,1345.6 865.2,1347.6 865.8,1349.5 866.4,1351.4 867.0,1353.3 867.6,1355.2 868.2,1357.1 868.8,1359.0 869.5,1360.9 870.1,1362.8 870.8,1364.6 871.5,1366.5 872.1,1368.4 872.8,1370.3 873.5,1372.2 874.2,1374.0 875.0,1375.9 875.7,1377.7 876.4,1379.6 877.2,1381.5 877.9,1383.3 878.7,1385.1 879.5,1387.0 880.3,1388.8 881.1,1390.6 881.9,1392.5 882.7,1394.3 883.6,1396.1 884.5,1397.9 885.4,1399.7 886.3,1401.4 887.3,1403.2 888.4,1404.9 889.5,1406.6 890.6,1408.2 891.8,1409.9 893.0,1411.5 894.3,1413.0 895.6,1414.5 897.0,1416.0 898.4,1417.4 899.9,1418.8 901.4,1420.1 902.9,1421.3 904.5,1422.5 906.2,1423.6 907.9,1424.7 909.6,1425.6 911.4,1426.6 913.2,1427.4 915.0,1428.2 916.9,1428.9 918.8,1429.5 920.7,1430.1 922.7,1430.6 924.6,1431.1 926.6,1431.5 928.5,1431.9 930.5,1432.3 932.5,1432.6 934.5,1432.8 936.4,1433.1 938.4,1433.3 940.4,1433.5 942.4,1433.8 944.4,1434.0 946.4,1434.2 948.4,1434.4 950.4,1434.6 952.4,1434.7 954.4,1434.9 956.4,1435.1 958.3,1435.2 960.3,1435.4 962.3,1435.5 964.3,1435.7 966.3,1435.8 968.3,1435.9 970.3,1436.0 972.3,1436.1 974.3,1436.2 976.3,1436.3 978.3,1436.4 980.3,1436.4 982.3,1436.5 984.3,1436.5 986.3,1436.5 988.3,1436.6 990.3,1436.6 992.3,1436.6 994.3,1436.6 996.3,1436.6 998.3,1436.6 1000.3,1436.6 1002.3,1436.6 1004.3,1436.5 1006.3,1436.5 1008.3,1436.5 1010.3,1436.4 1012.3,1436.4 1014.3,1436.3 1016.3,1436.3 1018.3,1436.2 1020.3,1436.1 1022.3,1436.1 1024.3,1436.0 1026.3,1435.9 1028.3,1435.8 1030.3,1435.7 1032.3,1435.6 1034.3,1435.6 1036.3,1435.5 1038.3,1435.4 1040.3,1435.3 1042.3,1435.2 1044.3,1435.0 1046.3,1434.9 1048.3,1434.8 1050.3,1434.7 1052.3,1434.6 1054.3,1434.5 1056.3,1434.3 1058.3,1434.2 1060.3,1434.1 1062.2,1434.0 1064.2,1433.8 1066.2,1433.7 1068.2,1433.5 1070.2,1433.4 1072.2,1433.3 1074.2,1433.1 1076.2,1433.0 1078.2,1432.8 1080.2,1432.6 1082.2,1432.5 1084.1,1432.3 1086.1,1432.1 1088.1,1432.0 1090.1,1431.8 1092.1,1431.6 1094.1,1431.4 1096.1,1431.3 1098.1,1431.1 1100.1,1430.9 1102.1,1430.7 1104.1,1430.5 1106.1,1430.3 1108.0,1430.1 1110.0,1429.9 1112.0,1429.7 1114.0,1429.5 1116.0,1429.2 1118.0,1429.0 1120.0,1428.8 1122.0,1428.6 1124.0,1428.3 1126.0,1428.1 1128.0,1427.9 1130.0,1427.6 1132.0,1427.4 1134.0,1427.1 1136.0,1426.9 1138.0,1426.6 1140.0,1426.4 1142.0,1426.2 1144.0,1426.0 1146.0,1425.8 1148.0,1425.6 1150.0,1425.5 1152.0,1425.3 1154.0,1425.2 1156.0,1425.2 1158.0,1425.1 1159.9,1425.1 1161.9,1425.2 1163.9,1425.2 1165.9,1425.3 1167.9,1425.5 1169.8,1425.7 1171.8,1425.9 1173.8,1426.1 1175.7,1426.3 1177.7,1426.6 1179.7,1426.9 1181.6,1427.2 1183.6,1427.5 1185.6,1427.8 1187.6,1428.1 1189.6,1428.5 1191.5,1428.8 1193.5,1429.1 1195.5,1429.4 1197.5,1429.7 1199.5,1430.0 1201.5,1430.2 1203.5,1430.5 1205.5,1430.7 1207.5,1431.0 1209.5,1431.2 1211.6,1431.3 1213.6,1431.5 1215.6,1431.6 1217.6,1431.7 1219.6,1431.8 1221.6,1431.8 1223.6,1431.8 1225.6,1431.8 1227.6,1431.7 1229.5,1431.6 1231.5,1431.5 1233.5,1431.3 1235.5,1431.0 1237.4,1430.7 1239.4,1430.4 1241.3,1430.0 1243.2,1429.6 1245.1,1429.1 1247.1,1428.6 1249.0,1428.1 1250.9,1427.6 1252.8,1427.0 1254.7,1426.5 1256.7,1426.0 1258.6,1425.4 1260.6,1424.9 1262.5,1424.4 1264.5,1424.0 1266.5,1423.6 1268.5,1423.2 1270.5,1422.8 1272.6,1422.5 1274.6,1422.2 1276.6,1421.9 1278.6,1421.6 1280.6,1421.2 1282.6,1420.8 1284.6,1420.4 1286.5,1420.0 1288.4,1419.5 1290.3,1418.9 1292.2,1418.3 1294.0,1417.6 1295.7,1416.8 1297.4,1416.0 1299.1,1415.0 1300.6,1413.9 1302.2,1412.7 1303.6,1411.3 1305.1,1409.9 1306.4,1408.4 1307.7,1406.9 1309.0,1405.3 1310.3,1403.6 1311.5,1402.0 1312.7,1400.3 1313.8,1398.5 1315.0,1396.8 1316.1,1395.2 1317.2,1393.5 1318.4,1391.9 1319.5,1390.3 1320.6,1388.7 1321.7,1387.1 1322.8,1385.5 1324.0,1384.0 1325.1,1382.4 1326.3,1380.8 1327.5,1379.2 1328.7,1377.6 1329.9,1376.0 1331.2,1374.4 1332.5,1372.7 1333.8,1371.0 1335.2,1369.4 1336.6,1367.8 1338.1,1366.4 1339.7,1365.2 1341.3,1364.4 1342.9,1363.8 1344.7,1363.7 1346.5,1363.9 1348.3,1364.5 1350.2,1365.3 1352.0,1366.2 1353.8,1367.4 1355.5,1368.6 1357.1,1369.9 1358.7,1371.2 1360.3,1372.6 1361.9,1373.9 1363.4,1375.3 1365.0,1376.7 1366.5,1378.0 1368.1,1379.2 1369.6,1380.3 1371.3,1381.4 1372.9,1382.3 1374.6,1383.1 1376.4,1383.8 1378.2,1384.3 1380.1,1384.7 1382.1,1384.9 1384.0,1385.0 1386.0,1385.0 1388.0,1384.9 1390.1,1384.7 1392.1,1384.4 1394.2,1384.0 1396.2,1383.5 1398.2,1383.0 1400.2,1382.3 1402.2,1381.7 1404.1,1381.0 1406.0,1380.2 1407.9,1379.4 1409.7,1378.6 1411.4,1377.7 1413.2,1376.8 1414.8,1375.8 1416.4,1374.8 1418.0,1373.7 1419.6,1372.6 1421.1,1371.3 1422.6,1370.0 1424.0,1368.7 1425.5,1367.3 1426.9,1365.9 1428.4,1364.5 1429.8,1363.1 1431.3,1361.6 1432.7,1360.2 1434.2,1358.9 1435.8,1357.5 1437.3,1356.2 1439.0,1355.0 1440.6,1353.9 1442.3,1352.9 1444.1,1352.0 1446.0,1351.3 1447.9,1350.7 1449.8,1350.3 1451.7,1350.3 1453.6,1350.5 1455.4,1351.1 1457.1,1352.0 1458.8,1353.2 1460.4,1354.6 1461.9,1356.1 1463.3,1357.6 1464.6,1359.1 1465.8,1360.7 1467.0,1362.3 1468.2,1363.9 1469.3,1365.6 1470.4,1367.2 1471.5,1368.9 1472.5,1370.6 1473.6,1372.3 1474.7,1374.0 1475.7,1375.6 1476.8,1377.3 1477.9,1379.0 1479.0,1380.7 1480.0,1382.4 1481.1,1384.1 1482.2,1385.8 1483.3,1387.5 1484.3,1389.2 1485.4,1390.9 1486.5,1392.5 1487.6,1394.2 1488.7,1395.9 1489.7,1397.6 1490.8,1399.3 1491.9,1401.0 1492.9,1402.7 1494.0,1404.4 1495.1,1406.1 1496.1,1407.7 1497.2,1409.4 1498.2,1411.1 1499.2,1412.8 1500.2,1414.5 1501.2,1416.3 1502.2,1418.0 1503.1,1419.8 1504.0,1421.7 1504.8,1423.5 1505.6,1425.4 1506.5,1427.3 1507.4,1429.0 1508.5,1430.7 1509.7,1432.2 1511.1,1433.5 1512.7,1434.7 1514.4,1435.6 1516.3,1436.4 1518.2,1437.1 1520.1,1437.7 1522.1,1438.2 1524.0,1438.6 1526.0,1439.0 1528.0,1439.3 1530.0,1439.6 1532.0,1439.8 1534.0,1440.1 1535.9,1440.3 1537.9,1440.6 1539.9,1440.8 1541.9,1441.1 1543.9,1441.4 1545.8,1441.8 1547.8,1442.1 1549.7,1442.6 1551.7,1443.1 1553.6,1443.6 1555.5,1444.3 1557.3,1445.0 1559.2,1445.7 1561.1,1446.5 1562.9,1447.4 1564.7,1448.2 1566.6,1449.1 1568.4,1449.9 1570.3,1450.7 1572.1,1451.5 1574.0,1452.2 1575.9,1452.9 1577.8,1453.5 1579.7,1454.1 1581.6,1454.5 1583.5,1455.0 1585.5,1455.4 1587.4,1455.7 1589.4,1456.1 1591.3,1456.4 1593.3,1456.7 1595.3,1456.9 1597.3,1457.2 1599.2,1457.5 1601.2,1457.7 1603.2,1457.9 1605.2,1458.1 1607.2,1458.4 1609.1,1458.6 1611.1,1458.7 1613.1,1458.9 1615.1,1459.1 1617.1,1459.3 1619.1,1459.4 1621.1,1459.6 1623.1,1459.7 1625.1,1459.9 1627.1,1460.0 1629.1,1460.1 1631.1,1460.3 1633.1,1460.4 1635.1,1460.5 1637.1,1460.6 1639.1,1460.7 1641.1,1460.9 1643.1,1461.0 1645.1,1461.1 1647.1,1461.2 1649.1,1461.3 1651.1,1461.4 1653.1,1461.5 1655.1,1461.6 1657.1,1461.7 1659.1,1461.8 1661.1,1461.9 1663.1,1462.0 1665.1,1462.1 1667.1,1462.2 1669.1,1462.3 1671.1,1462.4 1673.1,1462.5 1675.1,1462.6 1677.1,1462.7 1679.1,1462.8 1681.1,1462.9 1683.1,1463.0 1685.1,1463.0 1687.1,1463.1 1689.1,1463.2 1691.1,1463.3 1693.1,1463.4 1695.1,1463.4 1697.1,1463.5 1699.1,1463.6 1701.1,1463.7 1703.0,1463.7 1705.0,1463.8 1707.0,1463.9 1709.0,1464.0 1711.0,1464.0 1713.0,1464.1 1715.0,1464.2 1717.0,1464.2 1719.0,1464.3 1721.0,1464.3 1723.0,1464.4 1725.0,1464.5 1727.0,1464.5 1729.0,1464.6 1731.0,1464.7 1733.0,1464.7 1735.0,1464.8 1737.0,1464.8 1739.0,1464.9 1741.0,1464.9 1743.0,1465.0 1745.0,1465.0 1747.0,1465.1 1749.0,1465.1 1751.0,1465.2 1753.0,1465.2 1755.0,1465.3 1757.0,1465.3 1759.0,1465.4 1761.0,1465.4 1763.0,1465.5 1765.0,1465.5 1767.0,1465.6 1769.0,1465.6 1771.0,1465.7 1773.0,1465.7 1775.0,1465.7 1777.0,1465.8 1779.0,1465.8 1781.0,1465.9 1783.0,1465.9 1785.0,1465.9 1787.0,1466.0 1789.0,1466.0 1791.0,1466.0 1793.0,1466.1 1795.0,1466.1 1797.0,1466.2 1799.0,1466.2 1801.0,1466.2 1803.0,1466.3 1805.0,1466.3 1807.0,1466.3 1809.0,1466.4 1811.0,1466.4 1813.0,1466.4 1815.0,1466.5 1817.0,1466.5 1819.0,1466.5 1821.0,1466.6 1823.0,1466.6 1825.0,1466.6 1827.0,1466.6 1829.0,1466.7 1831.0,1466.7 1833.0,1466.7 1835.0,1466.8 1837.0,1466.8 1839.0,1466.8 1841.0,1466.9 1843.0,1466.9 1845.0,1466.9 1847.0,1466.9 1849.0,1467.0 1851.0,1467.0" fill="none" stroke="#00B050" stroke-width="11.5" stroke-linejoin="round" stroke-linecap="butt"/>
<path d="M252.0,1357.0L254.0,1357.3 255.9,1357.6 257.9,1358.1 259.8,1358.6 261.8,1359.1 263.7,1359.6 265.6,1360.2 267.6,1360.7 269.5,1361.2 271.4,1361.7 273.4,1362.2 275.3,1362.6 277.3,1362.9 279.3,1363.2 281.3,1363.5 283.2,1363.7 285.2,1363.9 287.2,1364.0 289.2,1364.1 291.2,1364.1 293.2,1364.2 295.2,1364.2 297.2,1364.2 299.2,1364.2 301.2,1364.2 303.2,1364.2 305.2,1364.2 307.2,1364.2 309.2,1364.2 311.2,1364.1 313.2,1364.1 315.2,1364.2 317.2,1364.2 319.2,1364.2 321.2,1364.3 323.2,1364.4 325.2,1364.5 327.2,1364.6 329.2,1364.8 331.2,1364.9 333.2,1365.1 335.2,1365.4 337.1,1365.6 339.1,1365.8 341.1,1366.0 343.2,1366.2 345.2,1366.4 347.2,1366.5 349.2,1366.6 351.2,1366.6 353.2,1366.6 355.2,1366.5 357.2,1366.4 359.1,1366.2 361.1,1365.9 363.0,1365.5 365.0,1365.1 366.9,1364.5 368.8,1364.0 370.7,1363.4 372.6,1362.7 374.5,1362.1 376.4,1361.4 378.2,1360.7 380.1,1360.0 382.0,1359.2 383.8,1358.4 385.7,1357.7 387.5,1356.9 389.3,1356.0 391.2,1355.2 393.0,1354.4 394.8,1353.5 396.6,1352.7 398.4,1351.8 400.2,1350.9 402.0,1350.0 403.8,1349.1 405.6,1348.2 407.4,1347.3 409.1,1346.3 410.9,1345.4 412.7,1344.5 414.5,1343.5 416.3,1342.6 418.0,1341.7 419.8,1340.7 421.6,1339.8 423.4,1338.8 425.1,1337.9 426.9,1336.9 428.7,1336.0 430.4,1335.1 432.2,1334.1 434.0,1333.2 435.8,1332.3 437.6,1331.4 439.3,1330.5 441.1,1329.6 442.9,1328.7 444.7,1327.8 446.5,1326.9 448.3,1326.1 450.1,1325.2 451.9,1324.4 453.7,1323.6 455.5,1322.8 457.4,1322.0 459.2,1321.2 461.0,1320.5 462.9,1319.7 464.7,1319.0 466.6,1318.3 468.4,1317.7 470.3,1317.0 472.2,1316.4 474.1,1315.8 475.9,1315.2 477.8,1314.6 479.8,1314.1 481.7,1313.5 483.6,1313.0 485.5,1312.5 487.4,1312.0 489.4,1311.6 491.3,1311.1 493.3,1310.6 495.2,1310.2 497.2,1309.7 499.2,1309.2 501.1,1308.8 503.1,1308.3 505.1,1307.8 507.0,1307.4 509.0,1306.9 511.0,1306.4 513.0,1305.9 515.0,1305.4 517.0,1304.9 518.9,1304.3 520.9,1303.8 522.9,1303.3 524.9,1302.8 526.9,1302.3 528.8,1301.9 530.8,1301.5 532.8,1301.2 534.7,1301.0 536.7,1300.8 538.6,1300.7 540.5,1300.7 542.4,1300.8 544.3,1301.1 546.2,1301.4 548.0,1301.9 549.9,1302.5 551.7,1303.1 553.6,1303.9 555.4,1304.7 557.2,1305.6 559.0,1306.5 560.8,1307.5 562.6,1308.4 564.5,1309.4 566.3,1310.3 568.1,1311.3 570.0,1312.2 571.9,1313.0 573.7,1313.8 575.6,1314.5 577.6,1315.1 579.5,1315.6 581.5,1316.0 583.4,1316.3 585.4,1316.6 587.4,1316.7 589.4,1316.7 591.4,1316.7 593.4,1316.6 595.3,1316.4 597.3,1316.2 599.3,1315.8 601.2,1315.4 603.1,1315.0 605.0,1314.4 606.9,1313.9 608.8,1313.2 610.6,1312.6 612.5,1311.8 614.3,1311.1 616.1,1310.3 618.0,1309.4 619.8,1308.6 621.6,1307.7 623.4,1306.8 625.2,1305.9 627.1,1304.9 628.9,1304.0 630.7,1303.0 632.5,1302.1 634.3,1301.1 636.1,1300.0 637.8,1298.9 639.4,1297.8 641.0,1296.6 642.5,1295.3 643.9,1294.0 645.3,1292.6 646.5,1291.1 647.7,1289.6 648.9,1288.0 650.0,1286.4 651.0,1284.7 651.9,1282.9 652.8,1281.2 653.7,1279.4 654.5,1277.5 655.3,1275.7 656.0,1273.8 656.8,1271.9 657.4,1270.0 658.1,1268.0 658.8,1266.1 659.4,1264.2 660.0,1262.2 660.6,1260.3 661.2,1258.4 661.8,1256.5 662.4,1254.6 662.9,1252.6 663.5,1250.7 664.1,1248.8 664.6,1246.9 665.2,1245.0 665.7,1243.1 666.3,1241.2 666.8,1239.3 667.4,1237.4 667.9,1235.5 668.5,1233.6 669.0,1231.7 669.6,1229.8 670.1,1227.9 670.7,1226.0 671.3,1224.1 671.8,1222.1 672.4,1220.2 673.0,1218.3 673.6,1216.4 674.2,1214.5 674.8,1212.6 675.4,1210.7 676.1,1208.8 676.7,1206.8 677.4,1204.9 678.1,1203.1 678.8,1201.2 679.5,1199.3 680.3,1197.4 681.1,1195.5 681.9,1193.7 682.7,1191.8 683.6,1190.1 684.6,1188.3 685.7,1186.7 687.0,1185.1 688.4,1183.7 689.9,1182.4 691.6,1181.3 693.3,1180.4 695.2,1179.6 697.1,1179.1 699.1,1178.8 701.2,1178.6 703.2,1178.5 705.2,1178.2 707.2,1177.8 709.1,1177.1 710.9,1176.3 712.5,1175.3 713.9,1174.0 715.1,1172.4 716.1,1170.7 717.0,1168.9 717.8,1167.0 718.6,1165.1 719.3,1163.2 719.9,1161.3 720.5,1159.3 721.1,1157.4 721.7,1155.5 722.2,1153.5 722.8,1151.6 723.3,1149.7 723.8,1147.7 724.3,1145.8 724.8,1143.8 725.3,1141.9 725.8,1140.0 726.3,1138.0 726.8,1136.1 727.2,1134.1 727.7,1132.2 728.1,1130.2 728.6,1128.3 729.0,1126.3 729.5,1124.4 729.9,1122.4 730.3,1120.5 730.8,1118.5 731.2,1116.6 731.6,1114.6 732.0,1112.7 732.4,1110.7 732.8,1108.7 733.2,1106.8 733.6,1104.8 733.9,1102.9 734.3,1100.9 734.7,1098.9 735.1,1097.0 735.4,1095.0 735.8,1093.0 736.1,1091.1 736.5,1089.1 736.8,1087.1 737.1,1085.2 737.5,1083.2 737.8,1081.2 738.1,1079.3 738.4,1077.3 738.7,1075.3 739.0,1073.3 739.3,1071.4 739.6,1069.4 739.9,1067.4 740.2,1065.4 740.5,1063.5 740.8,1061.5 741.1,1059.5 741.4,1057.5 741.6,1055.6 741.9,1053.6 742.2,1051.6 742.4,1049.6 742.7,1047.6 742.9,1045.6 743.2,1043.7 743.4,1041.7 743.7,1039.7 743.9,1037.7 744.1,1035.7 744.4,1033.7 744.6,1031.8 744.8,1029.8 745.0,1027.8 745.2,1025.8 745.5,1023.8 745.7,1021.8 745.9,1019.8 746.1,1017.8 746.3,1015.8 746.5,1013.9 746.7,1011.9 746.9,1009.9 747.1,1007.9 747.3,1005.9 747.5,1003.9 747.6,1001.9 747.8,999.9 748.0,997.9 748.2,995.9 748.4,993.9 748.5,991.9 748.7,989.9 748.9,988.0 749.1,986.0 749.2,984.0 749.4,982.0 749.5,980.0 749.7,978.0 749.9,976.0 750.0,974.0 750.2,972.0 750.3,970.0 750.5,968.0 750.6,966.0 750.8,964.0 750.9,962.0 751.1,960.0 751.2,958.0 751.4,956.0 751.5,954.0 751.7,952.0 751.8,950.0 751.9,948.0 752.1,946.0 752.2,944.0 752.4,942.0 752.5,940.0 752.6,938.0 752.8,936.0 752.9,934.0 753.0,932.0 753.2,930.0 753.3,928.1 753.4,926.1 753.6,924.1 753.7,922.1 753.8,920.1 754.0,918.1 754.1,916.1 754.2,914.1 754.3,912.1 754.5,910.1 754.6,908.1 754.7,906.1 754.8,904.1 755.0,902.1 755.1,900.1 755.2,898.1 755.3,896.1 755.5,894.1 755.6,892.1 755.7,890.1 755.8,888.1 755.9,886.1 756.1,884.1 756.2,882.1 756.3,880.1 756.4,878.1 756.5,876.1 756.7,874.1 756.8,872.1 756.9,870.1 757.0,868.1 757.1,866.1 757.2,864.1 757.4,862.1 757.5,860.1 757.6,858.1 757.7,856.1 757.8,854.1 757.9,852.1 758.0,850.1 758.2,848.1 758.3,846.2 758.4,844.2 758.5,842.2 758.6,840.2 758.7,838.2 758.9,836.2 759.0,834.2 759.1,832.2 759.2,830.2 759.3,828.2 759.4,826.2 759.5,824.2 759.7,822.2 759.8,820.2 759.9,818.2 760.0,816.2 760.1,814.2 760.2,812.2 760.4,810.2 760.5,808.2 760.6,806.2 760.7,804.2 760.8,802.2 761.0,800.2 761.1,798.2 761.2,796.2 761.3,794.2 761.4,792.2 761.5,790.2 761.7,788.2 761.8,786.3 761.9,784.3 762.0,782.3 762.2,780.3 762.3,778.3 762.4,776.3 762.5,774.3 762.7,772.3 762.8,770.3 762.9,768.3 763.0,766.3 763.2,764.3 763.3,762.3 763.4,760.3 763.5,758.3 763.7,756.3 763.8,754.3 763.9,752.3 764.1,750.3 764.2,748.3 764.3,746.4 764.5,744.4 764.6,742.4 764.7,740.4 764.9,738.4 765.0,736.4 765.2,734.4 765.3,732.4 765.4,730.4 765.6,728.4 765.7,726.4 765.9,724.4 766.0,722.4 766.1,720.4 766.3,718.4 766.4,716.4 766.6,714.5 766.7,712.5 766.9,710.5 767.0,708.5 767.2,706.5 767.3,704.5 767.5,702.5 767.7,700.5 767.8,698.5 768.0,696.5 768.1,694.5 768.3,692.5 768.5,690.5 768.6,688.5 768.8,686.5 768.9,684.5 769.1,682.6 769.3,680.6 769.4,678.6 769.6,676.6 769.8,674.6 770.0,672.6 770.1,670.6 770.3,668.6 770.5,666.6 770.7,664.6 770.8,662.6 771.0,660.6 771.2,658.6 771.4,656.6 771.6,654.6 771.8,652.6 771.9,650.6 772.1,648.6 772.3,646.6 772.5,644.6 772.7,642.6 772.9,640.6 773.1,638.6 773.3,636.6 773.5,634.6 773.7,632.6 773.9,630.6 774.1,628.6 774.3,626.6 774.5,624.6 774.7,622.6 774.9,620.6 775.1,618.6 775.4,616.6 775.6,614.6 775.8,612.6 776.0,610.6 776.2,608.6 776.5,606.6 776.7,604.6 776.9,602.6 777.1,600.6 777.4,598.6 777.6,596.7 777.8,594.7 778.1,592.7 778.3,590.8 778.5,588.9 778.8,587.1 779.0,585.2 779.2,583.4 779.5,581.6 779.7,579.9 780.0,578.1 780.2,576.3 780.5,574.4 780.8,572.5 781.1,570.6 781.5,568.5 781.8,566.3 782.3,564.0 782.7,561.6 783.2,559.0 783.7,556.3 784.3,553.8 784.9,551.7 785.6,550.2 786.3,549.6 787.1,550.1 787.9,551.5 788.7,553.6 789.4,556.0 790.1,558.5 790.8,560.9 791.3,563.2 791.7,565.4 792.1,567.6 792.5,569.6 792.7,571.6 793.0,573.5 793.1,575.3 793.3,577.2 793.4,579.0 793.6,580.8 793.7,582.7 793.8,584.5 793.9,586.4 794.1,588.3 794.2,590.2 794.3,592.1 794.5,594.1 794.6,596.0 794.8,598.0 794.9,600.0 795.1,602.0 795.2,604.0 795.4,606.0 795.5,608.0 795.7,610.0 795.8,612.0 795.9,614.0 796.1,616.0 796.2,618.0 796.4,620.0 796.5,622.0 796.7,624.0 796.8,626.0 797.0,628.0 797.1,630.0 797.2,632.0 797.4,634.0 797.5,636.1 797.6,638.1 797.8,640.1 797.9,642.1 798.1,644.1 798.2,646.1 798.3,648.1 798.5,650.1 798.6,652.1 798.7,654.1 798.9,656.1 799.0,658.1 799.1,660.1 799.3,662.1 799.4,664.1 799.5,666.1 799.6,668.1 799.8,670.1 799.9,672.1 800.0,674.1 800.1,676.1 800.3,678.1 800.4,680.1 800.5,682.1 800.6,684.1 800.8,686.0 800.9,688.0 801.0,690.0 801.1,692.0 801.2,694.0 801.4,696.0 801.5,698.0 801.6,700.0 801.7,702.0 801.8,704.0 801.9,706.0 802.1,708.0 802.2,710.0 802.3,712.0 802.4,714.0 802.5,716.0 802.6,718.0 802.7,720.0 802.9,722.0 803.0,724.0 803.1,726.0 803.2,728.0 803.3,730.0 803.4,732.0 803.5,734.0 803.6,736.0 803.7,738.0 803.8,740.0 803.9,742.0 804.0,744.0 804.1,746.0 804.2,748.0 804.4,750.0 804.5,752.0 804.6,753.9 804.7,755.9 804.8,757.9 804.9,759.9 805.0,761.9 805.1,763.9 805.2,765.9 805.3,767.9 805.4,769.9 805.5,771.9 805.6,773.9 805.6,775.9 805.7,777.9 805.8,779.9 805.9,781.9 806.0,783.9 806.1,785.9 806.2,787.9 806.3,789.9 806.4,791.9 806.5,793.9 806.6,795.9 806.7,797.9 806.8,799.9 806.9,801.9 807.0,803.9 807.0,805.9 807.1,807.8 807.2,809.8 807.3,811.8 807.4,813.8 807.5,815.8 807.6,817.8 807.7,819.8 807.7,821.8 807.8,823.8 807.9,825.8 808.0,827.8 808.1,829.8 808.2,831.8 808.3,833.8 808.3,835.8 808.4,837.8 808.5,839.8 808.6,841.8 808.7,843.8 808.7,845.8 808.8,847.8 808.9,849.8 809.0,851.8 809.1,853.8 809.1,855.8 809.2,857.8 809.3,859.8 809.4,861.8 809.5,863.8 809.5,865.8 809.6,867.8 809.7,869.8 809.8,871.8 809.8,873.8 809.9,875.8 810.0,877.8 810.1,879.8 810.1,881.8 810.2,883.8 810.3,885.8 810.4,887.8 810.4,889.8 810.5,891.8 810.6,893.8 810.7,895.8 810.7,897.8 810.8,899.8 810.9,901.8 811.0,903.8 811.0,905.8 811.1,907.8 811.2,909.8 811.3,911.8 811.3,913.8 811.4,915.8 811.5,917.8 811.6,919.8 811.6,921.8 811.7,923.8 811.8,925.8 811.8,927.8 811.9,929.8 812.0,931.8 812.1,933.8 812.1,935.8 812.2,937.8 812.3,939.8 812.4,941.8 812.4,943.8 812.5,945.8 812.6,947.8 812.7,949.8 812.7,951.8 812.8,953.8 812.9,955.9 812.9,957.9 813.0,959.9 813.1,961.9 813.2,963.9 813.3,965.9 813.3,967.9 813.4,969.9 813.5,971.9 813.6,973.9 813.6,975.9 813.7,977.9 813.8,979.9 813.9,981.9 813.9,983.9 814.0,985.9 814.1,987.9 814.2,989.9 814.3,991.9 814.3,993.9 814.4,995.9 814.5,997.9 814.6,999.9 814.7,1001.9 814.7,1003.9 814.8,1005.9 814.9,1007.9 815.0,1009.9 815.1,1011.9 815.2,1013.9 815.2,1015.9 815.3,1017.9 815.4,1019.9 815.5,1021.9 815.6,1023.9 815.7,1025.9 815.8,1027.9 815.8,1029.9 815.9,1031.9 816.0,1033.9 816.1,1035.9 816.2,1037.9 816.3,1039.8 816.4,1041.8 816.5,1043.8 816.6,1045.8 816.7,1047.8 816.8,1049.8 816.9,1051.8 816.9,1053.8 817.0,1055.8 817.1,1057.8 817.2,1059.8 817.3,1061.8 817.4,1063.8 817.5,1065.8 817.6,1067.8 817.7,1069.8 817.8,1071.8 817.9,1073.8 818.0,1075.8 818.1,1077.8 818.3,1079.8 818.4,1081.8 818.5,1083.8 818.6,1085.8 818.7,1087.8 818.8,1089.7 818.9,1091.7 819.0,1093.7 819.1,1095.7 819.2,1097.7 819.4,1099.7 819.5,1101.7 819.6,1103.7 819.7,1105.7 819.8,1107.7 819.9,1109.7 820.0,1111.7 820.2,1113.7 820.3,1115.7 820.4,1117.7 820.5,1119.7 820.7,1121.6 820.8,1123.6 820.9,1125.6 821.0,1127.6 821.2,1129.6 821.3,1131.6 821.4,1133.6 821.5,1135.6 821.7,1137.6 821.8,1139.6 821.9,1141.6 822.1,1143.6 822.2,1145.6 822.4,1147.6 822.5,1149.5 822.6,1151.5 822.8,1153.5 822.9,1155.5 823.1,1157.5 823.2,1159.5 823.3,1161.5 823.5,1163.5 823.6,1165.5 823.8,1167.5 823.9,1169.5 824.1,1171.5 824.2,1173.5 824.4,1175.4 824.5,1177.4 824.7,1179.4 824.8,1181.4 825.0,1183.4 825.2,1185.4 825.3,1187.4 825.5,1189.4 825.6,1191.4 825.8,1193.4 826.0,1195.4 826.1,1197.4 826.3,1199.4 826.5,1201.4 826.6,1203.4 826.8,1205.3 827.0,1207.3 827.2,1209.3 827.3,1211.3 827.5,1213.3 827.7,1215.3 827.9,1217.3 828.1,1219.3 828.2,1221.3 828.4,1223.3 828.6,1225.3 828.8,1227.3 829.0,1229.3 829.2,1231.3 829.4,1233.3 829.5,1235.3 829.7,1237.3 829.9,1239.3 830.1,1241.2 830.3,1243.2 830.5,1245.2 830.7,1247.2 830.9,1249.2 831.1,1251.2 831.3,1253.2 831.5,1255.2 831.7,1257.2 832.0,1259.2 832.2,1261.2 832.4,1263.2 832.6,1265.2 832.8,1267.2 833.0,1269.2 833.2,1271.2 833.5,1273.2 833.7,1275.2 833.9,1277.2 834.1,1279.2 834.4,1281.2 834.6,1283.2 834.8,1285.2 835.1,1287.2 835.3,1289.2 835.6,1291.2 835.8,1293.1 836.1,1295.1 836.4,1297.1 836.6,1299.1 836.9,1301.1 837.2,1303.1 837.5,1305.1 837.8,1307.1 838.1,1309.0 838.4,1311.0 838.7,1313.0 839.0,1315.0 839.4,1316.9 839.7,1318.9 840.1,1320.9 840.4,1322.8 840.8,1324.8 841.2,1326.8 841.6,1328.7 842.0,1330.7 842.4,1332.6 842.9,1334.6 843.3,1336.5 843.8,1338.4 844.2,1340.4 844.7,1342.3 845.2,1344.2 845.7,1346.1 846.2,1348.1 846.8,1350.0 847.3,1351.9 847.9,1353.8 848.4,1355.7 849.0,1357.6 849.7,1359.5 850.3,1361.3 850.9,1363.2 851.6,1365.1 852.3,1367.0 853.0,1368.8 853.7,1370.7 854.4,1372.5 855.1,1374.4 855.9,1376.2 856.7,1378.1 857.5,1379.9 858.3,1381.7 859.2,1383.5 860.0,1385.3 860.9,1387.1 861.8,1388.9 862.8,1390.7 863.7,1392.5 864.7,1394.3 865.7,1396.0 866.7,1397.8 867.7,1399.5 868.8,1401.3 869.9,1403.0 871.0,1404.7 872.1,1406.4 873.3,1408.1 874.5,1409.8 875.7,1411.4 877.0,1413.0 878.3,1414.6 879.6,1416.1 880.9,1417.6 882.3,1419.0 883.7,1420.4 885.2,1421.7 886.7,1423.0 888.2,1424.2 889.8,1425.4 891.4,1426.5 893.1,1427.5 894.8,1428.5 896.5,1429.3 898.3,1430.2 900.1,1430.9 901.9,1431.6 903.8,1432.3 905.7,1432.8 907.6,1433.4 909.5,1433.9 911.5,1434.3 913.5,1434.7 915.5,1435.1 917.5,1435.4 919.5,1435.7 921.5,1436.0 923.5,1436.3 925.6,1436.5 927.6,1436.7 929.6,1436.9 931.6,1437.1 933.6,1437.2 935.7,1437.4 937.7,1437.5 939.7,1437.6 941.7,1437.7 943.7,1437.8 945.7,1437.9 947.7,1437.9 949.7,1438.0 951.7,1438.0 953.7,1438.0 955.7,1438.1 957.7,1438.1 959.7,1438.1 961.7,1438.1 963.7,1438.0 965.7,1438.0 967.6,1438.0 969.6,1438.0 971.6,1437.9 973.6,1437.9 975.6,1437.8 977.6,1437.8 979.6,1437.7 981.6,1437.6 983.6,1437.6 985.5,1437.5 987.5,1437.5 989.5,1437.4 991.5,1437.3 993.5,1437.3 995.5,1437.2 997.5,1437.1 999.5,1437.1 1001.5,1437.0 1003.5,1437.0 1005.5,1436.9 1007.5,1436.9 1009.5,1436.8 1011.4,1436.8 1013.4,1436.7 1015.4,1436.7 1017.4,1436.7 1019.4,1436.6 1021.4,1436.6 1023.4,1436.5 1025.4,1436.5 1027.4,1436.5 1029.4,1436.4 1031.4,1436.4 1033.4,1436.3 1035.5,1436.3 1037.5,1436.2 1039.5,1436.2 1041.5,1436.1 1043.5,1436.1 1045.5,1436.0 1047.5,1436.0 1049.5,1435.9 1051.5,1435.8 1053.5,1435.8 1055.5,1435.7 1057.5,1435.6 1059.5,1435.5 1061.5,1435.4 1063.5,1435.3 1065.5,1435.2 1067.5,1435.1 1069.5,1435.0 1071.5,1434.8 1073.5,1434.7 1075.5,1434.6 1077.5,1434.4 1079.5,1434.3 1081.5,1434.1 1083.5,1433.9 1085.5,1433.7 1087.5,1433.6 1089.5,1433.4 1091.5,1433.2 1093.5,1432.9 1095.5,1432.7 1097.5,1432.5 1099.5,1432.3 1101.5,1432.1 1103.5,1431.8 1105.5,1431.6 1107.5,1431.4 1109.5,1431.1 1111.5,1430.9 1113.4,1430.7 1115.4,1430.5 1117.4,1430.2 1119.4,1430.0 1121.4,1429.8 1123.4,1429.6 1125.4,1429.4 1127.4,1429.2 1129.4,1429.0 1131.4,1428.8 1133.3,1428.6 1135.3,1428.5 1137.3,1428.3 1139.3,1428.2 1141.3,1428.0 1143.3,1427.9 1145.3,1427.8 1147.3,1427.7 1149.2,1427.6 1151.2,1427.6 1153.2,1427.5 1155.2,1427.5 1157.2,1427.5 1159.2,1427.5 1161.2,1427.5 1163.1,1427.6 1165.1,1427.6 1167.1,1427.7 1169.1,1427.8 1171.1,1427.9 1173.1,1428.1 1175.1,1428.2 1177.0,1428.3 1179.0,1428.5 1181.0,1428.7 1183.0,1428.9 1185.0,1429.0 1187.0,1429.2 1189.0,1429.4 1191.0,1429.6 1193.0,1429.8 1195.0,1430.0 1197.1,1430.2 1199.1,1430.4 1201.1,1430.6 1203.1,1430.8 1205.1,1431.0 1207.1,1431.1 1209.2,1431.3 1211.2,1431.4 1213.2,1431.5 1215.2,1431.5 1217.2,1431.6 1219.2,1431.6 1221.2,1431.5 1223.2,1431.5 1225.2,1431.4 1227.1,1431.2 1229.1,1431.0 1231.1,1430.8 1233.0,1430.5 1235.0,1430.1 1236.9,1429.7 1238.9,1429.3 1240.8,1428.8 1242.7,1428.2 1244.6,1427.6 1246.5,1426.9 1248.4,1426.2 1250.3,1425.5 1252.2,1424.8 1254.1,1424.1 1256.0,1423.5 1257.9,1422.8 1259.8,1422.3 1261.8,1421.7 1263.7,1421.3 1265.7,1420.9 1267.7,1420.6 1269.7,1420.3 1271.7,1420.2 1273.7,1420.0 1275.8,1419.9 1277.8,1419.9 1279.8,1419.8 1281.9,1419.8 1283.9,1419.7 1285.9,1419.7 1287.9,1419.6 1289.9,1419.4 1291.8,1419.2 1293.8,1419.0 1295.7,1418.7 1297.6,1418.3 1299.5,1417.8 1301.3,1417.2 1303.2,1416.5 1305.0,1415.8 1306.7,1414.9 1308.5,1414.0 1310.2,1412.9 1311.9,1411.8 1313.5,1410.6 1315.2,1409.3 1316.8,1408.0 1318.4,1406.6 1320.1,1405.2 1321.7,1403.9 1323.3,1402.6 1325.0,1401.3 1326.7,1400.2 1328.4,1399.2 1330.1,1398.3 1331.9,1397.5 1333.7,1397.0 1335.5,1396.7 1337.4,1396.5 1339.3,1396.5 1341.3,1396.7 1343.2,1397.0 1345.2,1397.5 1347.1,1398.0 1349.0,1398.7 1350.9,1399.5 1352.8,1400.4 1354.6,1401.3 1356.4,1402.3 1358.1,1403.4 1359.8,1404.5 1361.5,1405.6 1363.2,1406.7 1364.8,1407.8 1366.5,1408.9 1368.2,1409.9 1369.9,1410.9 1371.6,1411.9 1373.4,1412.7 1375.2,1413.5 1377.1,1414.1 1379.0,1414.7 1381.0,1415.1 1383.0,1415.5 1385.0,1415.7 1387.0,1415.9 1389.1,1415.9 1391.1,1415.8 1393.1,1415.7 1395.1,1415.4 1397.1,1415.0 1399.0,1414.5 1400.9,1413.9 1402.8,1413.2 1404.6,1412.3 1406.4,1411.4 1408.1,1410.3 1409.7,1409.2 1411.3,1407.9 1412.8,1406.6 1414.3,1405.3 1415.7,1403.8 1417.1,1402.4 1418.4,1400.9 1419.7,1399.3 1421.0,1397.8 1422.3,1396.3 1423.5,1394.7 1424.7,1393.2 1426.0,1391.6 1427.2,1390.1 1428.5,1388.5 1429.8,1387.0 1431.1,1385.5 1432.5,1384.0 1434.0,1382.5 1435.6,1381.2 1437.2,1380.0 1439.0,1379.0 1440.9,1378.3 1442.8,1378.0 1444.8,1378.0 1446.7,1378.4 1448.5,1379.0 1450.3,1379.8 1452.0,1380.8 1453.6,1381.9 1455.1,1383.2 1456.6,1384.5 1458.0,1385.9 1459.3,1387.4 1460.7,1389.0 1461.9,1390.6 1463.2,1392.2 1464.4,1393.8 1465.7,1395.5 1466.9,1397.1 1468.2,1398.7 1469.5,1400.2 1470.7,1401.7 1472.0,1403.2 1473.3,1404.7 1474.7,1406.2 1476.0,1407.6 1477.3,1409.1 1478.7,1410.5 1480.1,1411.9 1481.5,1413.4 1482.9,1414.8 1484.3,1416.2 1485.7,1417.6 1487.2,1418.9 1488.7,1420.2 1490.3,1421.5 1491.9,1422.8 1493.5,1423.9 1495.2,1425.1 1497.0,1426.1 1498.8,1427.1 1500.6,1428.0 1502.5,1428.7 1504.4,1429.2 1506.3,1429.4 1508.1,1429.3 1509.9,1428.7 1511.6,1427.8 1513.2,1426.5 1514.8,1425.1 1516.3,1423.6 1517.7,1422.1 1519.2,1420.7 1520.6,1419.4 1522.0,1418.2 1523.5,1417.0 1524.9,1415.7 1526.3,1414.2 1527.7,1412.5 1529.1,1410.8 1530.5,1409.0 1531.9,1407.4 1533.5,1406.0 1535.1,1404.8 1536.8,1403.9 1538.6,1403.4 1540.5,1403.3 1542.4,1403.4 1544.3,1403.8 1546.2,1404.3 1547.9,1405.0 1549.7,1405.9 1551.3,1406.8 1552.8,1407.9 1554.3,1409.1 1555.8,1410.4 1557.1,1411.7 1558.4,1413.1 1559.7,1414.6 1561.0,1416.2 1562.2,1417.8 1563.4,1419.5 1564.5,1421.1 1565.7,1422.9 1566.8,1424.6 1567.9,1426.4 1569.1,1428.1 1570.3,1429.8 1571.4,1431.6 1572.6,1433.3 1573.9,1435.0 1575.1,1436.6 1576.4,1438.2 1577.8,1439.7 1579.1,1441.3 1580.5,1442.7 1582.0,1444.1 1583.5,1445.5 1585.0,1446.8 1586.5,1448.0 1588.1,1449.2 1589.7,1450.4 1591.4,1451.5 1593.0,1452.5 1594.7,1453.5 1596.4,1454.5 1598.2,1455.3 1600.0,1456.2 1601.7,1456.9 1603.6,1457.7 1605.4,1458.4 1607.2,1459.0 1609.1,1459.6 1611.0,1460.1 1612.9,1460.6 1614.8,1461.1 1616.8,1461.5 1618.7,1461.9 1620.7,1462.3 1622.6,1462.6 1624.6,1462.9 1626.6,1463.2 1628.6,1463.5 1630.7,1463.7 1632.7,1463.9 1634.7,1464.1 1636.7,1464.3 1638.8,1464.4 1640.8,1464.6 1642.8,1464.7 1644.9,1464.8 1646.9,1464.9 1649.0,1465.0 1651.0,1465.1 1653.0,1465.2 1655.1,1465.3 1657.1,1465.4 1659.1,1465.5 1661.2,1465.6 1663.2,1465.7 1665.2,1465.7 1667.2,1465.8 1669.3,1465.9 1671.3,1465.9 1673.3,1466.0 1675.3,1466.1 1677.3,1466.1 1679.3,1466.2 1681.3,1466.2 1683.4,1466.3 1685.4,1466.3 1687.4,1466.4 1689.4,1466.4 1691.4,1466.5 1693.4,1466.5 1695.4,1466.6 1697.4,1466.6 1699.4,1466.6 1701.3,1466.7 1703.3,1466.7 1705.3,1466.7 1707.3,1466.7 1709.3,1466.8 1711.3,1466.8 1713.3,1466.8 1715.3,1466.8 1717.3,1466.9 1719.3,1466.9 1721.2,1466.9 1723.2,1466.9 1725.2,1466.9 1727.2,1466.9 1729.2,1466.9 1731.2,1466.9 1733.1,1467.0 1735.1,1467.0 1737.1,1467.0 1739.1,1467.0 1741.1,1467.0 1743.0,1467.0 1745.0,1467.0 1747.0,1467.0 1749.0,1467.0 1751.0,1467.0 1752.9,1467.0 1754.9,1467.0 1756.9,1467.0 1758.9,1467.0 1760.9,1467.0 1762.8,1467.0 1764.8,1467.0 1766.8,1467.0 1768.8,1467.0 1770.8,1467.0 1772.7,1467.0 1774.7,1467.0 1776.7,1467.0 1778.7,1467.0 1780.7,1467.0 1782.7,1467.0 1784.7,1467.0 1786.6,1467.0 1788.6,1467.0 1790.6,1467.1 1792.6,1467.1 1794.6,1467.1 1796.6,1467.1 1798.6,1467.1 1800.6,1467.1 1802.6,1467.1 1804.6,1467.1 1806.6,1467.2 1808.6,1467.2 1810.6,1467.2 1812.6,1467.2 1814.6,1467.2 1816.6,1467.3 1818.6,1467.3 1820.6,1467.3 1822.6,1467.3 1824.6,1467.4 1826.7,1467.4 1828.7,1467.5 1830.7,1467.5 1832.7,1467.5 1834.7,1467.6 1836.8,1467.6 1838.8,1467.7 1840.8,1467.7 1842.9,1467.8 1844.9,1467.8 1846.9,1467.9 1849.0,1467.9 1851.0,1468.0" fill="none" stroke="#00B0F0" stroke-width="11.5" stroke-linejoin="round" stroke-linecap="butt"/>
<path d="M252.0,1371.8L254.0,1372.2 256.0,1372.5 258.0,1372.8 259.9,1373.1 261.9,1373.3 263.9,1373.6 265.9,1373.8 267.9,1374.0 269.9,1374.2 271.9,1374.4 273.8,1374.5 275.8,1374.7 277.8,1374.8 279.8,1374.9 281.8,1375.0 283.8,1375.1 285.8,1375.2 287.8,1375.3 289.8,1375.4 291.8,1375.4 293.8,1375.5 295.8,1375.5 297.8,1375.5 299.8,1375.6 301.8,1375.6 303.8,1375.6 305.8,1375.6 307.8,1375.6 309.8,1375.6 311.8,1375.6 313.8,1375.7 315.8,1375.7 317.8,1375.7 319.8,1375.7 321.8,1375.7 323.8,1375.7 325.8,1375.7 327.8,1375.8 329.8,1375.8 331.8,1375.8 333.8,1375.9 335.9,1375.9 337.9,1375.9 339.9,1376.0 341.9,1376.0 343.9,1376.0 345.9,1375.9 347.9,1375.9 349.9,1375.8 351.9,1375.8 353.9,1375.6 355.8,1375.5 357.8,1375.3 359.8,1375.1 361.7,1374.8 363.7,1374.6 365.6,1374.2 367.6,1373.8 369.5,1373.4 371.4,1372.9 373.4,1372.4 375.3,1371.8 377.2,1371.2 379.1,1370.6 380.9,1369.9 382.8,1369.2 384.7,1368.5 386.6,1367.7 388.4,1367.0 390.3,1366.2 392.1,1365.3 394.0,1364.5 395.8,1363.6 397.6,1362.8 399.4,1361.9 401.3,1361.0 403.1,1360.2 404.9,1359.3 406.7,1358.4 408.5,1357.5 410.3,1356.6 412.1,1355.7 413.9,1354.8 415.7,1353.9 417.5,1353.0 419.3,1352.1 421.1,1351.2 422.9,1350.3 424.7,1349.4 426.5,1348.6 428.3,1347.7 430.1,1346.9 431.9,1346.1 433.7,1345.3 435.5,1344.5 437.4,1343.7 439.2,1342.9 441.0,1342.2 442.9,1341.4 444.7,1340.7 446.6,1340.1 448.5,1339.4 450.3,1338.8 452.2,1338.2 454.1,1337.6 456.1,1337.0 458.0,1336.5 459.9,1336.0 461.9,1335.5 463.8,1335.1 465.8,1334.6 467.7,1334.2 469.7,1333.9 471.7,1333.5 473.6,1333.1 475.6,1332.8 477.6,1332.5 479.6,1332.2 481.6,1331.9 483.6,1331.7 485.6,1331.4 487.6,1331.2 489.6,1331.0 491.6,1330.8 493.6,1330.6 495.6,1330.4 497.5,1330.2 499.5,1330.1 501.5,1329.9 503.5,1329.8 505.5,1329.6 507.5,1329.5 509.5,1329.4 511.5,1329.3 513.5,1329.2 515.5,1329.2 517.4,1329.1 519.4,1329.0 521.4,1329.0 523.4,1329.0 525.4,1329.0 527.4,1329.0 529.4,1329.0 531.4,1329.0 533.4,1329.0 535.4,1329.0 537.3,1329.1 539.3,1329.2 541.3,1329.2 543.3,1329.3 545.3,1329.4 547.3,1329.5 549.3,1329.6 551.4,1329.8 553.4,1329.9 555.4,1330.1 557.4,1330.2 559.4,1330.4 561.4,1330.6 563.4,1330.8 565.5,1330.9 567.5,1331.1 569.5,1331.2 571.5,1331.3 573.5,1331.4 575.5,1331.4 577.5,1331.4 579.5,1331.4 581.5,1331.3 583.4,1331.1 585.4,1330.9 587.4,1330.7 589.3,1330.4 591.2,1330.0 593.2,1329.6 595.1,1329.2 597.0,1328.7 598.9,1328.2 600.8,1327.6 602.8,1327.1 604.7,1326.4 606.6,1325.8 608.5,1325.1 610.3,1324.4 612.2,1323.7 614.1,1323.0 616.0,1322.2 617.9,1321.4 619.8,1320.6 621.6,1319.8 623.5,1319.0 625.3,1318.1 627.1,1317.2 628.9,1316.2 630.7,1315.2 632.4,1314.2 634.0,1313.1 635.7,1312.0 637.2,1310.8 638.7,1309.5 640.2,1308.2 641.6,1306.9 642.9,1305.4 644.2,1303.9 645.3,1302.4 646.5,1300.7 647.5,1299.0 648.5,1297.3 649.4,1295.5 650.3,1293.7 651.1,1291.9 651.9,1290.1 652.6,1288.2 653.3,1286.3 654.0,1284.4 654.6,1282.5 655.2,1280.6 655.7,1278.7 656.2,1276.8 656.8,1274.9 657.3,1272.9 657.8,1271.0 658.3,1269.1 658.8,1267.1 659.3,1265.2 659.8,1263.3 660.4,1261.3 660.9,1259.4 661.4,1257.5 661.9,1255.5 662.5,1253.6 663.0,1251.6 663.5,1249.7 664.0,1247.8 664.5,1245.8 665.1,1243.9 665.6,1241.9 666.1,1240.0 666.6,1238.1 667.1,1236.1 667.5,1234.2 668.0,1232.3 668.5,1230.3 668.9,1228.4 669.4,1226.5 669.8,1224.5 670.2,1222.6 670.6,1220.7 671.1,1218.7 671.5,1216.8 671.9,1214.9 672.3,1212.9 672.7,1211.0 673.2,1209.1 673.6,1207.2 674.1,1205.2 674.5,1203.3 675.0,1201.3 675.5,1199.4 676.0,1197.5 676.5,1195.5 677.0,1193.6 677.6,1191.6 678.2,1189.7 678.8,1187.7 679.4,1185.8 680.1,1183.8 680.8,1181.8 681.5,1179.9 682.3,1177.9 683.1,1176.0 684.0,1174.2 685.0,1172.5 686.1,1170.9 687.4,1169.4 688.8,1168.1 690.3,1167.1 692.0,1166.2 693.9,1165.6 695.9,1165.4 697.9,1165.5 700.0,1166.0 701.9,1166.5 703.8,1166.6 705.6,1166.2 707.2,1165.3 708.5,1164.2 709.7,1162.8 710.8,1161.3 711.7,1159.6 712.5,1157.8 713.3,1155.9 714.0,1154.0 714.7,1152.0 715.4,1150.1 716.0,1148.1 716.7,1146.2 717.3,1144.2 718.0,1142.3 718.6,1140.3 719.2,1138.4 719.8,1136.4 720.3,1134.5 720.9,1132.5 721.5,1130.6 722.0,1128.6 722.6,1126.7 723.1,1124.7 723.6,1122.8 724.1,1120.8 724.6,1118.9 725.1,1116.9 725.5,1115.0 726.0,1113.0 726.5,1111.1 726.9,1109.1 727.3,1107.2 727.8,1105.2 728.2,1103.2 728.6,1101.3 729.0,1099.3 729.4,1097.4 729.8,1095.4 730.1,1093.4 730.5,1091.5 730.9,1089.5 731.2,1087.6 731.5,1085.6 731.9,1083.6 732.2,1081.7 732.5,1079.7 732.8,1077.7 733.1,1075.8 733.4,1073.8 733.7,1071.8 734.0,1069.9 734.3,1067.9 734.6,1065.9 734.8,1064.0 735.1,1062.0 735.3,1060.0 735.6,1058.1 735.8,1056.1 736.1,1054.1 736.3,1052.1 736.5,1050.2 736.7,1048.2 737.0,1046.2 737.2,1044.2 737.4,1042.3 737.6,1040.3 737.8,1038.3 738.0,1036.3 738.2,1034.4 738.3,1032.4 738.5,1030.4 738.7,1028.4 738.9,1026.4 739.1,1024.5 739.2,1022.5 739.4,1020.5 739.6,1018.5 739.7,1016.5 739.9,1014.5 740.0,1012.6 740.2,1010.6 740.3,1008.6 740.5,1006.6 740.6,1004.6 740.8,1002.6 740.9,1000.6 741.1,998.7 741.2,996.7 741.4,994.7 741.5,992.7 741.7,990.7 741.8,988.7 741.9,986.7 742.1,984.7 742.2,982.7 742.4,980.7 742.5,978.7 742.6,976.7 742.8,974.7 742.9,972.7 743.0,970.7 743.2,968.7 743.3,966.8 743.5,964.8 743.6,962.8 743.7,960.8 743.9,958.8 744.0,956.8 744.1,954.8 744.3,952.8 744.4,950.8 744.5,948.8 744.7,946.8 744.8,944.8 744.9,942.8 745.1,940.8 745.2,938.8 745.3,936.8 745.5,934.8 745.6,932.8 745.7,930.8 745.9,928.8 746.0,926.8 746.2,924.8 746.3,922.8 746.4,920.8 746.6,918.8 746.7,916.8 746.9,914.8 747.0,912.8 747.1,910.8 747.3,908.8 747.4,906.8 747.6,904.8 747.7,902.8 747.9,900.8 748.0,898.8 748.2,896.8 748.3,894.8 748.4,892.8 748.6,890.8 748.7,888.8 748.9,886.8 749.0,884.8 749.2,882.8 749.3,880.8 749.5,878.8 749.6,876.8 749.8,874.8 749.9,872.8 750.0,870.8 750.2,868.8 750.3,866.8 750.5,864.8 750.6,862.8 750.8,860.8 750.9,858.8 751.0,856.8 751.2,854.8 751.3,852.8 751.5,850.8 751.6,848.8 751.8,846.8 751.9,844.8 752.0,842.8 752.2,840.8 752.3,838.9 752.4,836.9 752.6,834.9 752.7,832.9 752.8,830.9 753.0,828.9 753.1,826.9 753.2,824.9 753.4,822.9 753.5,820.9 753.6,818.9 753.8,816.9 753.9,814.9 754.0,812.9 754.1,810.9 754.3,808.9 754.4,806.9 754.5,804.9 754.6,802.9 754.8,800.9 754.9,799.0 755.0,797.0 755.1,795.0 755.2,793.0 755.4,791.0 755.5,789.0 755.6,787.0 755.7,785.0 755.8,783.0 756.0,781.0 756.1,779.0 756.2,777.0 756.3,775.0 756.4,773.0 756.5,771.0 756.6,769.0 756.7,767.1 756.9,765.1 757.0,763.1 757.1,761.1 757.2,759.1 757.3,757.1 757.4,755.1 757.5,753.1 757.6,751.1 757.7,749.1 757.8,747.1 757.9,745.1 758.0,743.1 758.2,741.1 758.3,739.2 758.4,737.2 758.5,735.2 758.6,733.2 758.7,731.2 758.8,729.2 758.9,727.2 759.0,725.2 759.1,723.2 759.2,721.2 759.3,719.2 759.4,717.2 759.5,715.2 759.6,713.2 759.7,711.2 759.8,709.3 759.9,707.3 760.0,705.3 760.1,703.3 760.2,701.3 760.3,699.3 760.4,697.3 760.5,695.3 760.6,693.3 760.7,691.3 760.8,689.3 760.9,687.3 761.0,685.3 761.1,683.3 761.2,681.3 761.3,679.4 761.4,677.4 761.5,675.4 761.6,673.4 761.7,671.4 761.8,669.4 761.9,667.4 761.9,665.4 762.0,663.4 762.1,661.4 762.2,659.4 762.3,657.4 762.4,655.4 762.5,653.4 762.6,651.4 762.7,649.4 762.8,647.4 762.9,645.4 763.0,643.5 763.1,641.5 763.2,639.5 763.3,637.5 763.4,635.5 763.5,633.5 763.6,631.5 763.7,629.5 763.8,627.5 763.9,625.5 764.0,623.5 764.1,621.5 764.2,619.5 764.3,617.5 764.4,615.5 764.5,613.5 764.6,611.5 764.7,609.5 764.8,607.5 764.9,605.5 765.0,603.5 765.1,601.5 765.2,599.5 765.3,597.5 765.4,595.5 765.5,593.5 765.6,591.5 765.7,589.5 765.8,587.5 765.9,585.5 766.0,583.6 766.1,581.6 766.2,579.6 766.4,577.6 766.5,575.6 766.6,573.6 766.7,571.6 766.8,569.6 766.9,567.6 767.0,565.6 767.1,563.6 767.2,561.6 767.3,559.6 767.4,557.6 767.6,555.6 767.7,553.6 767.8,551.6 767.9,549.5 768.0,547.5 768.1,545.5 768.2,543.5 768.4,541.5 768.5,539.5 768.6,537.5 768.7,535.5 768.8,533.5 768.9,531.5 769.1,529.5 769.2,527.5 769.3,525.5 769.4,523.5 769.5,521.5 769.7,519.5 769.8,517.5 769.9,515.5 770.0,513.5 770.2,511.5 770.3,509.5 770.4,507.5 770.6,505.5 770.7,503.5 770.8,501.5 770.9,499.4 771.1,497.4 771.2,495.4 771.3,493.4 771.5,491.4 771.6,489.4 771.7,487.4 771.9,485.4 772.0,483.4 772.2,481.4 772.3,479.4 772.4,477.4 772.6,475.4 772.7,473.3 772.9,471.3 773.0,469.3 773.2,467.3 773.3,465.3 773.5,463.3 773.6,461.3 773.7,459.3 773.9,457.3 774.1,455.2 774.2,453.2 774.4,451.2 774.5,449.2 774.7,447.2 774.8,445.2 775.0,443.2 775.1,441.2 775.3,439.1 775.4,437.1 775.6,435.1 775.8,433.1 775.9,431.1 776.1,429.1 776.2,427.1 776.4,425.1 776.5,423.1 776.7,421.1 776.8,419.1 777.0,417.1 777.1,415.2 777.2,413.2 777.4,411.2 777.5,409.2 777.6,407.3 777.8,405.3 777.9,403.3 778.0,401.4 778.1,399.4 778.2,397.5 778.3,395.5 778.4,393.6 778.5,391.7 778.6,389.7 778.7,387.8 778.8,385.9 778.9,384.0 779.0,382.1 779.0,380.2 779.1,378.3 779.2,376.4 779.2,374.6 779.3,372.7 779.3,370.8 779.3,369.0 779.4,367.1 779.4,365.3 779.5,363.4 779.5,361.5 779.6,359.6 779.6,357.6 779.7,355.6 779.9,353.6 780.0,351.5 780.2,349.4 780.3,347.2 780.6,345.0 780.8,342.7 781.1,340.3 781.5,337.9 781.8,335.4 782.3,332.8 782.7,330.1 783.3,327.6 783.8,325.2 784.4,323.1 784.9,321.4 785.5,320.2 786.1,319.6 786.7,319.7 787.3,320.4 787.9,321.8 788.4,323.6 788.9,325.8 789.4,328.3 789.9,330.9 790.3,333.6 790.7,336.2 791.0,338.7 791.3,341.1 791.6,343.4 791.8,345.6 792.0,347.8 792.1,349.8 792.2,351.8 792.4,353.8 792.4,355.7 792.5,357.6 792.6,359.4 792.6,361.2 792.7,363.0 792.7,364.8 792.8,366.5 792.8,368.3 792.9,370.1 792.9,372.0 793.0,373.8 793.1,375.7 793.2,377.6 793.3,379.5 793.4,381.5 793.6,383.4 793.7,385.4 793.8,387.4 793.9,389.4 794.1,391.5 794.2,393.5 794.4,395.6 794.5,397.6 794.6,399.7 794.8,401.7 794.9,403.8 795.0,405.8 795.1,407.9 795.2,409.9 795.4,411.9 795.4,414.0 795.5,416.0 795.6,418.0 795.7,420.0 795.8,422.0 795.8,424.1 795.9,426.1 796.0,428.1 796.0,430.1 796.1,432.1 796.1,434.1 796.2,436.1 796.2,438.0 796.3,440.0 796.3,442.0 796.4,444.0 796.4,446.0 796.5,448.0 796.5,450.0 796.6,452.0 796.6,453.9 796.7,455.9 796.7,457.9 796.8,459.9 796.8,461.9 796.9,463.9 796.9,465.9 797.0,467.9 797.0,469.9 797.1,471.9 797.2,473.8 797.2,475.8 797.3,477.8 797.3,479.8 797.4,481.8 797.5,483.8 797.5,485.8 797.6,487.8 797.7,489.8 797.7,491.8 797.8,493.8 797.9,495.8 797.9,497.8 798.0,499.8 798.1,501.8 798.1,503.8 798.2,505.8 798.3,507.8 798.4,509.8 798.4,511.8 798.5,513.8 798.6,515.8 798.6,517.8 798.7,519.8 798.8,521.8 798.9,523.8 798.9,525.8 799.0,527.8 799.1,529.8 799.2,531.8 799.2,533.8 799.3,535.8 799.4,537.8 799.5,539.8 799.5,541.8 799.6,543.8 799.7,545.8 799.7,547.8 799.8,549.8 799.9,551.8 800.0,553.8 800.0,555.8 800.1,557.8 800.2,559.8 800.2,561.8 800.3,563.8 800.4,565.8 800.4,567.8 800.5,569.8 800.6,571.8 800.7,573.8 800.7,575.8 800.8,577.8 800.9,579.8 800.9,581.8 801.0,583.8 801.1,585.8 801.1,587.8 801.2,589.8 801.3,591.8 801.3,593.8 801.4,595.8 801.5,597.8 801.5,599.8 801.6,601.8 801.7,603.8 801.7,605.8 801.8,607.8 801.9,609.8 802.0,611.8 802.0,613.8 802.1,615.8 802.2,617.8 802.2,619.8 802.3,621.8 802.3,623.8 802.4,625.8 802.5,627.8 802.5,629.8 802.6,631.8 802.7,633.8 802.7,635.8 802.8,637.8 802.9,639.8 802.9,641.8 803.0,643.8 803.1,645.8 803.1,647.8 803.2,649.8 803.3,651.8 803.3,653.8 803.4,655.8 803.5,657.8 803.5,659.8 803.6,661.8 803.6,663.8 803.7,665.8 803.8,667.8 803.8,669.8 803.9,671.8 804.0,673.8 804.0,675.8 804.1,677.8 804.1,679.8 804.2,681.8 804.3,683.8 804.3,685.8 804.4,687.8 804.5,689.8 804.5,691.8 804.6,693.8 804.6,695.8 804.7,697.8 804.8,699.8 804.8,701.8 804.9,703.8 805.0,705.8 805.0,707.8 805.1,709.8 805.1,711.8 805.2,713.8 805.3,715.8 805.3,717.8 805.4,719.8 805.4,721.8 805.5,723.8 805.6,725.8 805.6,727.8 805.7,729.8 805.7,731.8 805.8,733.8 805.9,735.8 805.9,737.8 806.0,739.8 806.0,741.8 806.1,743.8 806.2,745.8 806.2,747.8 806.3,749.8 806.3,751.8 806.4,753.8 806.5,755.8 806.5,757.8 806.6,759.8 806.6,761.8 806.7,763.8 806.7,765.8 806.8,767.7 806.9,769.7 806.9,771.7 807.0,773.7 807.0,775.7 807.1,777.7 807.2,779.7 807.2,781.7 807.3,783.7 807.3,785.7 807.4,787.7 807.4,789.7 807.5,791.7 807.6,793.7 807.6,795.7 807.7,797.7 807.7,799.7 807.8,801.7 807.8,803.7 807.9,805.7 808.0,807.7 808.0,809.7 808.1,811.7 808.1,813.7 808.2,815.7 808.2,817.7 808.3,819.7 808.4,821.7 808.4,823.7 808.5,825.7 808.5,827.7 808.6,829.7 808.6,831.7 808.7,833.7 808.8,835.7 808.8,837.7 808.9,839.7 808.9,841.7 809.0,843.7 809.0,845.7 809.1,847.7 809.1,849.7 809.2,851.7 809.3,853.7 809.3,855.7 809.4,857.7 809.4,859.7 809.5,861.7 809.5,863.7 809.6,865.7 809.6,867.7 809.7,869.7 809.8,871.7 809.8,873.7 809.9,875.7 809.9,877.7 810.0,879.7 810.0,881.7 810.1,883.7 810.1,885.7 810.2,887.7 810.3,889.7 810.3,891.7 810.4,893.7 810.4,895.7 810.5,897.7 810.5,899.7 810.6,901.7 810.6,903.7 810.7,905.7 810.8,907.7 810.8,909.7 810.9,911.7 810.9,913.7 811.0,915.7 811.0,917.7 811.1,919.7 811.1,921.7 811.2,923.7 811.3,925.7 811.3,927.7 811.4,929.7 811.4,931.7 811.5,933.7 811.5,935.7 811.6,937.7 811.7,939.7 811.7,941.7 811.8,943.7 811.8,945.7 811.9,947.7 811.9,949.7 812.0,951.7 812.1,953.7 812.1,955.7 812.2,957.7 812.2,959.7 812.3,961.7 812.4,963.7 812.4,965.7 812.5,967.7 812.5,969.7 812.6,971.7 812.7,973.7 812.7,975.7 812.8,977.7 812.8,979.7 812.9,981.7 813.0,983.7 813.0,985.7 813.1,987.7 813.2,989.7 813.2,991.7 813.3,993.7 813.4,995.7 813.4,997.7 813.5,999.7 813.6,1001.7 813.6,1003.7 813.7,1005.7 813.8,1007.7 813.8,1009.7 813.9,1011.7 814.0,1013.7 814.0,1015.7 814.1,1017.7 814.2,1019.7 814.2,1021.7 814.3,1023.7 814.4,1025.7 814.4,1027.7 814.5,1029.7 814.6,1031.7 814.7,1033.7 814.7,1035.7 814.8,1037.7 814.9,1039.7 815.0,1041.7 815.0,1043.7 815.1,1045.7 815.2,1047.7 815.3,1049.7 815.3,1051.7 815.4,1053.7 815.5,1055.7 815.6,1057.7 815.6,1059.7 815.7,1061.7 815.8,1063.7 815.9,1065.7 816.0,1067.7 816.0,1069.7 816.1,1071.7 816.2,1073.6 816.3,1075.6 816.4,1077.6 816.5,1079.6 816.6,1081.6 816.6,1083.6 816.7,1085.6 816.8,1087.6 816.9,1089.6 817.0,1091.6 817.1,1093.6 817.2,1095.6 817.3,1097.6 817.4,1099.6 817.4,1101.6 817.5,1103.6 817.6,1105.6 817.7,1107.6 817.8,1109.6 817.9,1111.6 818.0,1113.6 818.1,1115.6 818.2,1117.6 818.3,1119.6 818.4,1121.6 818.5,1123.6 818.6,1125.6 818.7,1127.6 818.8,1129.6 818.9,1131.6 819.0,1133.6 819.1,1135.6 819.2,1137.6 819.3,1139.6 819.4,1141.6 819.5,1143.6 819.7,1145.6 819.8,1147.6 819.9,1149.6 820.0,1151.6 820.1,1153.6 820.2,1155.6 820.3,1157.6 820.4,1159.5 820.6,1161.5 820.7,1163.5 820.8,1165.5 820.9,1167.5 821.0,1169.5 821.2,1171.5 821.3,1173.5 821.4,1175.5 821.5,1177.5 821.6,1179.5 821.8,1181.5 821.9,1183.5 822.0,1185.5 822.2,1187.5 822.3,1189.5 822.4,1191.5 822.5,1193.5 822.7,1195.5 822.8,1197.5 822.9,1199.5 823.1,1201.5 823.2,1203.5 823.3,1205.5 823.5,1207.4 823.6,1209.4 823.8,1211.4 823.9,1213.4 824.0,1215.4 824.2,1217.4 824.3,1219.4 824.5,1221.4 824.6,1223.4 824.8,1225.4 824.9,1227.4 825.1,1229.4 825.2,1231.4 825.4,1233.4 825.5,1235.4 825.7,1237.4 825.8,1239.4 826.0,1241.3 826.2,1243.3 826.3,1245.3 826.5,1247.3 826.6,1249.3 826.8,1251.3 827.0,1253.3 827.1,1255.3 827.3,1257.3 827.5,1259.3 827.6,1261.3 827.8,1263.3 828.0,1265.3 828.1,1267.3 828.3,1269.2 828.5,1271.2 828.7,1273.2 828.8,1275.2 829.0,1277.2 829.2,1279.2 829.4,1281.2 829.6,1283.2 829.7,1285.2 829.9,1287.2 830.1,1289.2 830.3,1291.2 830.5,1293.2 830.7,1295.1 830.9,1297.1 831.1,1299.1 831.3,1301.1 831.5,1303.1 831.7,1305.1 831.9,1307.1 832.1,1309.1 832.3,1311.1 832.5,1313.1 832.7,1315.0 832.9,1317.0 833.1,1319.0 833.3,1321.0 833.5,1323.0 833.7,1325.0 834.0,1327.0 834.2,1329.0 834.4,1331.0 834.6,1332.9 834.9,1334.9 835.1,1336.9 835.4,1338.9 835.6,1340.9 835.9,1342.9 836.1,1344.8 836.4,1346.8 836.6,1348.8 836.9,1350.8 837.2,1352.8 837.5,1354.8 837.7,1356.7 838.0,1358.7 838.3,1360.7 838.6,1362.7 838.9,1364.7 839.2,1366.6 839.6,1368.6 839.9,1370.6 840.2,1372.5 840.6,1374.5 841.0,1376.5 841.4,1378.4 841.8,1380.4 842.2,1382.3 842.7,1384.3 843.2,1386.2 843.7,1388.2 844.3,1390.1 844.9,1392.0 845.5,1393.9 846.2,1395.8 846.9,1397.7 847.6,1399.5 848.4,1401.4 849.3,1403.2 850.2,1405.0 851.1,1406.8 852.1,1408.5 853.2,1410.2 854.3,1411.9 855.4,1413.6 856.7,1415.2 857.9,1416.7 859.3,1418.2 860.6,1419.7 862.1,1421.1 863.5,1422.4 865.1,1423.7 866.6,1424.9 868.3,1426.0 869.9,1427.1 871.6,1428.2 873.4,1429.1 875.1,1430.1 876.9,1430.9 878.8,1431.8 880.6,1432.5 882.5,1433.3 884.4,1434.0 886.3,1434.6 888.3,1435.2 890.2,1435.8 892.2,1436.3 894.1,1436.8 896.1,1437.2 898.1,1437.7 900.0,1438.1 902.0,1438.4 904.0,1438.8 906.0,1439.1 907.9,1439.3 909.9,1439.6 911.9,1439.8 913.9,1440.0 915.9,1440.2 917.9,1440.4 919.9,1440.5 921.8,1440.6 923.8,1440.7 925.8,1440.8 927.8,1440.9 929.8,1440.9 931.8,1441.0 933.8,1441.0 935.8,1441.0 937.8,1441.0 939.8,1441.0 941.8,1441.0 943.8,1441.0 945.8,1441.0 947.8,1441.0 949.8,1441.0 951.8,1440.9 953.8,1440.9 955.8,1440.9 957.8,1440.8 959.8,1440.8 961.8,1440.8 963.8,1440.7 965.8,1440.7 967.8,1440.7 969.8,1440.6 971.8,1440.6 973.8,1440.5 975.8,1440.5 977.8,1440.4 979.8,1440.4 981.8,1440.3 983.8,1440.3 985.8,1440.2 987.8,1440.2 989.8,1440.1 991.8,1440.0 993.8,1440.0 995.8,1439.9 997.8,1439.8 999.8,1439.8 1001.8,1439.7 1003.8,1439.6 1005.8,1439.6 1007.8,1439.5 1009.8,1439.4 1011.8,1439.3 1013.8,1439.3 1015.8,1439.2 1017.8,1439.1 1019.8,1439.0 1021.8,1438.9 1023.8,1438.9 1025.8,1438.8 1027.8,1438.7 1029.8,1438.6 1031.8,1438.5 1033.8,1438.4 1035.8,1438.3 1037.8,1438.2 1039.8,1438.1 1041.8,1438.0 1043.8,1437.9 1045.8,1437.8 1047.8,1437.7 1049.8,1437.6 1051.8,1437.5 1053.8,1437.4 1055.8,1437.3 1057.8,1437.2 1059.8,1437.1 1061.8,1437.0 1063.8,1436.9 1065.8,1436.8 1067.8,1436.7 1069.8,1436.6 1071.8,1436.4 1073.8,1436.3 1075.7,1436.2 1077.7,1436.1 1079.7,1436.0 1081.7,1435.8 1083.7,1435.7 1085.7,1435.6 1087.7,1435.5 1089.7,1435.4 1091.7,1435.2 1093.7,1435.1 1095.7,1435.0 1097.7,1434.9 1099.7,1434.7 1101.7,1434.6 1103.7,1434.5 1105.7,1434.4 1107.7,1434.3 1109.7,1434.1 1111.7,1434.0 1113.7,1433.9 1115.7,1433.8 1117.7,1433.7 1119.7,1433.6 1121.7,1433.5 1123.7,1433.4 1125.7,1433.4 1127.7,1433.3 1129.7,1433.2 1131.7,1433.1 1133.7,1433.1 1135.7,1433.0 1137.7,1432.9 1139.7,1432.9 1141.7,1432.9 1143.7,1432.8 1145.7,1432.8 1147.7,1432.8 1149.7,1432.8 1151.7,1432.8 1153.7,1432.8 1155.7,1432.8 1157.7,1432.8 1159.7,1432.8 1161.7,1432.9 1163.7,1432.9 1165.7,1433.0 1167.7,1433.1 1169.7,1433.1 1171.7,1433.2 1173.7,1433.3 1175.7,1433.4 1177.7,1433.5 1179.7,1433.5 1181.7,1433.6 1183.7,1433.7 1185.7,1433.8 1187.7,1433.9 1189.7,1433.9 1191.7,1434.0 1193.7,1434.0 1195.7,1434.1 1197.7,1434.1 1199.7,1434.1 1201.7,1434.1 1203.7,1434.1 1205.7,1434.1 1207.7,1434.1 1209.7,1434.0 1211.7,1433.9 1213.7,1433.8 1215.6,1433.7 1217.6,1433.6 1219.6,1433.4 1221.6,1433.2 1223.6,1433.0 1225.6,1432.8 1227.6,1432.5 1229.6,1432.2 1231.5,1431.9 1233.5,1431.5 1235.4,1431.1 1237.4,1430.6 1239.3,1430.0 1241.2,1429.3 1243.0,1428.6 1244.9,1427.8 1246.7,1426.9 1248.5,1426.0 1250.3,1425.0 1252.1,1424.1 1253.8,1423.1 1255.6,1422.2 1257.4,1421.4 1259.2,1420.6 1261.1,1419.9 1262.9,1419.3 1264.8,1418.8 1266.7,1418.5 1268.6,1418.3 1270.6,1418.2 1272.6,1418.2 1274.6,1418.3 1276.6,1418.4 1278.6,1418.6 1280.7,1418.8 1282.7,1419.1 1284.8,1419.3 1286.8,1419.5 1288.9,1419.6 1290.9,1419.7 1292.9,1419.8 1294.9,1419.7 1296.9,1419.5 1298.8,1419.2 1300.8,1418.8 1302.7,1418.3 1304.6,1417.7 1306.5,1417.0 1308.4,1416.3 1310.3,1415.5 1312.2,1414.6 1314.0,1413.7 1315.9,1412.9 1317.8,1412.0 1319.7,1411.2 1321.6,1410.5 1323.5,1409.8 1325.4,1409.3 1327.3,1409.0 1329.2,1408.9 1331.2,1408.9 1333.1,1409.1 1335.0,1409.4 1337.0,1409.9 1338.9,1410.5 1340.8,1411.2 1342.7,1411.9 1344.6,1412.7 1346.4,1413.5 1348.2,1414.4 1350.1,1415.3 1351.9,1416.2 1353.7,1417.1 1355.5,1418.1 1357.2,1419.0 1359.0,1420.0 1360.8,1420.9 1362.5,1421.9 1364.3,1422.8 1366.1,1423.8 1367.9,1424.7 1369.7,1425.5 1371.5,1426.4 1373.3,1427.2 1375.1,1427.9 1376.9,1428.6 1378.8,1429.3 1380.7,1429.9 1382.6,1430.4 1384.5,1430.8 1386.5,1431.2 1388.4,1431.5 1390.4,1431.7 1392.4,1431.9 1394.5,1431.9 1396.5,1431.9 1398.5,1431.7 1400.5,1431.5 1402.5,1431.2 1404.4,1430.8 1406.4,1430.2 1408.3,1429.6 1410.2,1428.9 1412.0,1428.1 1413.8,1427.1 1415.5,1426.1 1417.2,1424.9 1418.9,1423.7 1420.5,1422.4 1422.1,1421.1 1423.6,1419.7 1425.2,1418.5 1426.9,1417.3 1428.6,1416.3 1430.3,1415.4 1432.1,1414.6 1434.0,1414.1 1435.9,1413.7 1437.8,1413.4 1439.8,1413.3 1441.7,1413.4 1443.7,1413.6 1445.6,1413.9 1447.6,1414.4 1449.4,1415.0 1451.3,1415.7 1453.1,1416.6 1454.8,1417.6 1456.4,1418.7 1458.1,1419.9 1459.7,1421.2 1461.2,1422.5 1462.8,1423.8 1464.4,1425.1 1465.9,1426.4 1467.5,1427.7 1469.2,1428.9 1470.8,1430.0 1472.5,1431.0 1474.2,1432.0 1476.0,1432.9 1477.8,1433.7 1479.7,1434.4 1481.6,1435.0 1483.5,1435.6 1485.5,1436.0 1487.4,1436.4 1489.5,1436.8 1491.5,1437.1 1493.6,1437.2 1495.6,1437.2 1497.5,1437.0 1499.3,1436.5 1500.9,1435.7 1502.4,1434.5 1503.7,1433.1 1504.8,1431.4 1505.8,1429.6 1506.8,1427.7 1507.7,1425.7 1508.6,1423.8 1509.4,1421.9 1510.3,1420.1 1511.2,1418.3 1512.0,1416.5 1512.9,1414.8 1513.8,1413.0 1514.6,1411.3 1515.5,1409.6 1516.3,1407.8 1517.2,1406.1 1518.1,1404.3 1518.9,1402.4 1519.8,1400.6 1520.7,1398.7 1521.5,1396.8 1522.4,1395.0 1523.2,1393.1 1524.1,1391.3 1524.9,1389.5 1525.7,1387.7 1526.5,1386.0 1527.4,1384.3 1528.2,1382.6 1529.0,1380.9 1529.9,1379.0 1530.9,1377.0 1532.0,1375.0 1533.1,1373.1 1534.3,1371.3 1535.6,1369.8 1536.9,1368.6 1538.4,1367.9 1540.0,1367.6 1541.7,1367.9 1543.4,1368.7 1545.1,1369.9 1546.8,1371.3 1548.4,1372.9 1549.8,1374.6 1551.0,1376.3 1552.1,1377.9 1553.0,1379.6 1554.0,1381.3 1554.9,1383.0 1555.8,1384.7 1556.6,1386.5 1557.5,1388.3 1558.3,1390.1 1559.1,1391.9 1559.8,1393.7 1560.6,1395.6 1561.3,1397.5 1562.1,1399.3 1562.8,1401.2 1563.5,1403.1 1564.2,1405.0 1564.9,1406.9 1565.5,1408.8 1566.2,1410.8 1566.9,1412.7 1567.6,1414.5 1568.3,1416.4 1569.1,1418.3 1569.8,1420.2 1570.6,1422.0 1571.4,1423.8 1572.3,1425.6 1573.2,1427.4 1574.1,1429.1 1575.1,1430.8 1576.2,1432.5 1577.3,1434.2 1578.5,1435.8 1579.7,1437.3 1581.0,1438.9 1582.3,1440.4 1583.7,1441.8 1585.2,1443.2 1586.7,1444.5 1588.3,1445.8 1589.8,1447.0 1591.5,1448.2 1593.1,1449.3 1594.8,1450.4 1596.5,1451.4 1598.3,1452.4 1600.0,1453.3 1601.8,1454.1 1603.6,1454.9 1605.4,1455.6 1607.3,1456.3 1609.2,1456.9 1611.1,1457.5 1613.0,1458.1 1614.9,1458.6 1616.8,1459.0 1618.8,1459.5 1620.7,1459.9 1622.7,1460.2 1624.7,1460.5 1626.7,1460.9 1628.7,1461.1 1630.7,1461.4 1632.7,1461.6 1634.8,1461.8 1636.8,1462.0 1638.8,1462.2 1640.9,1462.4 1642.9,1462.5 1644.9,1462.6 1647.0,1462.8 1649.0,1462.9 1651.1,1463.0 1653.1,1463.1 1655.1,1463.2 1657.2,1463.4 1659.2,1463.5 1661.2,1463.6 1663.3,1463.7 1665.3,1463.8 1667.3,1463.9 1669.3,1464.0 1671.3,1464.0 1673.4,1464.1 1675.4,1464.2 1677.4,1464.3 1679.4,1464.4 1681.4,1464.5 1683.4,1464.5 1685.4,1464.6 1687.4,1464.7 1689.4,1464.7 1691.4,1464.8 1693.4,1464.9 1695.4,1464.9 1697.4,1465.0 1699.4,1465.1 1701.4,1465.1 1703.4,1465.2 1705.4,1465.2 1707.4,1465.3 1709.4,1465.3 1711.4,1465.4 1713.3,1465.4 1715.3,1465.4 1717.3,1465.5 1719.3,1465.5 1721.3,1465.6 1723.3,1465.6 1725.2,1465.6 1727.2,1465.7 1729.2,1465.7 1731.2,1465.7 1733.2,1465.8 1735.2,1465.8 1737.1,1465.8 1739.1,1465.9 1741.1,1465.9 1743.1,1465.9 1745.0,1465.9 1747.0,1466.0 1749.0,1466.0 1751.0,1466.0 1753.0,1466.0 1754.9,1466.1 1756.9,1466.1 1758.9,1466.1 1760.9,1466.1 1762.9,1466.1 1764.8,1466.2 1766.8,1466.2 1768.8,1466.2 1770.8,1466.2 1772.8,1466.2 1774.7,1466.3 1776.7,1466.3 1778.7,1466.3 1780.7,1466.3 1782.7,1466.3 1784.7,1466.4 1786.7,1466.4 1788.6,1466.4 1790.6,1466.4 1792.6,1466.5 1794.6,1466.5 1796.6,1466.5 1798.6,1466.5 1800.6,1466.5 1802.6,1466.6 1804.6,1466.6 1806.6,1466.6 1808.6,1466.6 1810.6,1466.7 1812.6,1466.7 1814.6,1466.7 1816.6,1466.8 1818.6,1466.8 1820.6,1466.8 1822.6,1466.9 1824.6,1466.9 1826.7,1466.9 1828.7,1467.0 1830.7,1467.0 1832.7,1467.1 1834.7,1467.1 1836.8,1467.1 1838.8,1467.2 1840.8,1467.2 1842.8,1467.3 1844.9,1467.3 1846.9,1467.4 1849.0,1467.4 1851.0,1467.5" fill="none" stroke="#0070C0" stroke-width="11.5" stroke-linejoin="round" stroke-linecap="butt"/>
<path d="M252.0,1377.5L254.0,1377.6 255.9,1377.7 257.9,1377.8 259.9,1377.9 261.9,1378.0 263.8,1378.2 265.8,1378.3 267.8,1378.4 269.8,1378.5 271.8,1378.6 273.8,1378.7 275.8,1378.8 277.8,1379.0 279.8,1379.1 281.8,1379.2 283.8,1379.3 285.8,1379.4 287.9,1379.5 289.9,1379.6 291.9,1379.7 293.9,1379.7 295.9,1379.8 297.9,1379.9 300.0,1379.9 302.0,1380.0 304.0,1380.0 306.0,1380.0 308.0,1380.0 310.0,1380.0 312.0,1380.0 314.1,1380.0 316.1,1380.0 318.1,1379.9 320.1,1379.9 322.1,1379.8 324.1,1379.7 326.1,1379.6 328.1,1379.4 330.1,1379.3 332.1,1379.1 334.1,1379.0 336.1,1378.7 338.0,1378.5 340.0,1378.3 342.0,1378.0 344.0,1377.7 345.9,1377.4 347.9,1377.1 349.8,1376.7 351.8,1376.4 353.7,1376.0 355.7,1375.5 357.6,1375.1 359.5,1374.6 361.4,1374.1 363.4,1373.5 365.3,1373.0 367.2,1372.4 369.1,1371.8 371.0,1371.2 372.9,1370.5 374.7,1369.9 376.6,1369.2 378.5,1368.5 380.4,1367.8 382.2,1367.1 384.1,1366.3 386.0,1365.6 387.8,1364.8 389.7,1364.0 391.6,1363.3 393.4,1362.5 395.3,1361.7 397.1,1360.9 399.0,1360.1 400.8,1359.3 402.7,1358.6 404.6,1357.8 406.4,1357.0 408.3,1356.2 410.1,1355.4 412.0,1354.6 413.8,1353.9 415.7,1353.1 417.6,1352.4 419.4,1351.6 421.3,1350.9 423.2,1350.2 425.0,1349.5 426.9,1348.8 428.8,1348.1 430.7,1347.5 432.6,1346.9 434.5,1346.2 436.4,1345.7 438.3,1345.1 440.2,1344.6 442.1,1344.0 444.0,1343.6 445.9,1343.1 447.8,1342.7 449.8,1342.3 451.7,1341.9 453.7,1341.6 455.6,1341.3 457.6,1341.0 459.6,1340.7 461.5,1340.5 463.5,1340.3 465.5,1340.2 467.5,1340.0 469.5,1339.9 471.5,1339.8 473.5,1339.8 475.5,1339.7 477.5,1339.7 479.5,1339.6 481.5,1339.6 483.5,1339.7 485.5,1339.7 487.6,1339.7 489.6,1339.8 491.6,1339.8 493.6,1339.9 495.6,1339.9 497.7,1340.0 499.7,1340.1 501.7,1340.2 503.7,1340.3 505.7,1340.3 507.7,1340.4 509.7,1340.5 511.7,1340.6 513.7,1340.7 515.7,1340.7 517.7,1340.8 519.7,1340.8 521.7,1340.9 523.7,1340.9 525.7,1341.0 527.7,1341.0 529.6,1341.1 531.6,1341.2 533.6,1341.2 535.6,1341.3 537.6,1341.4 539.5,1341.4 541.5,1341.5 543.5,1341.6 545.5,1341.7 547.5,1341.9 549.5,1342.0 551.5,1342.2 553.5,1342.4 555.5,1342.6 557.5,1342.8 559.6,1343.0 561.6,1343.2 563.6,1343.3 565.6,1343.4 567.6,1343.4 569.5,1343.3 571.5,1343.1 573.4,1342.8 575.4,1342.4 577.3,1342.0 579.2,1341.5 581.1,1341.1 583.1,1340.6 585.0,1340.0 586.9,1339.5 588.9,1339.0 590.8,1338.5 592.8,1338.0 594.7,1337.5 596.7,1337.0 598.6,1336.5 600.5,1335.9 602.4,1335.3 604.3,1334.7 606.2,1334.1 608.1,1333.4 609.9,1332.6 611.7,1331.9 613.5,1331.1 615.4,1330.3 617.2,1329.5 619.0,1328.7 620.9,1327.9 622.8,1327.1 624.7,1326.3 626.6,1325.5 628.4,1324.7 630.3,1323.8 632.0,1322.8 633.6,1321.6 635.1,1320.4 636.5,1319.0 637.7,1317.5 638.8,1315.8 639.9,1314.2 640.9,1312.5 642.0,1310.8 642.9,1309.0 643.9,1307.3 644.8,1305.5 645.7,1303.7 646.6,1302.0 647.4,1300.1 648.3,1298.3 649.1,1296.5 649.9,1294.6 650.6,1292.8 651.4,1290.9 652.1,1289.0 652.8,1287.1 653.5,1285.2 654.2,1283.3 654.8,1281.4 655.5,1279.5 656.1,1277.6 656.7,1275.7 657.3,1273.7 657.9,1271.8 658.5,1269.9 659.0,1267.9 659.6,1266.0 660.1,1264.1 660.6,1262.1 661.2,1260.2 661.7,1258.3 662.2,1256.3 662.7,1254.4 663.2,1252.5 663.7,1250.6 664.2,1248.6 664.7,1246.7 665.2,1244.8 665.7,1242.9 666.1,1241.0 666.6,1239.1 667.1,1237.1 667.5,1235.2 668.0,1233.3 668.5,1231.4 668.9,1229.5 669.4,1227.6 669.9,1225.6 670.3,1223.7 670.8,1221.8 671.3,1219.9 671.7,1218.0 672.2,1216.0 672.6,1214.1 673.1,1212.1 673.6,1210.2 674.1,1208.3 674.5,1206.3 675.0,1204.3 675.5,1202.4 676.0,1200.4 676.5,1198.4 677.0,1196.5 677.5,1194.5 678.0,1192.5 678.5,1190.5 679.0,1188.5 679.5,1186.4 680.1,1184.4 680.6,1182.4 681.1,1180.3 681.7,1178.3 682.3,1176.3 682.9,1174.3 683.6,1172.4 684.4,1170.6 685.3,1169.1 686.3,1167.7 687.6,1166.7 689.1,1166.0 690.7,1165.7 692.6,1165.8 694.5,1166.2 696.5,1166.9 698.5,1168.0 700.4,1169.2 702.2,1170.4 704.0,1171.4 705.8,1172.0 707.5,1172.0 709.0,1171.5 710.4,1170.5 711.5,1169.1 712.5,1167.4 713.3,1165.5 714.1,1163.5 714.9,1161.6 715.6,1159.6 716.3,1157.6 717.0,1155.7 717.7,1153.7 718.3,1151.7 718.9,1149.8 719.5,1147.8 720.0,1145.8 720.5,1143.9 721.1,1141.9 721.5,1139.9 722.0,1138.0 722.4,1136.0 722.9,1134.1 723.3,1132.1 723.7,1130.1 724.0,1128.2 724.4,1126.2 724.7,1124.2 725.1,1122.3 725.4,1120.3 725.7,1118.3 726.0,1116.4 726.2,1114.4 726.5,1112.5 726.8,1110.5 727.0,1108.5 727.3,1106.6 727.5,1104.6 727.7,1102.6 727.9,1100.6 728.2,1098.7 728.4,1096.7 728.6,1094.7 728.8,1092.8 729.0,1090.8 729.2,1088.8 729.4,1086.9 729.6,1084.9 729.9,1082.9 730.1,1080.9 730.3,1078.9 730.5,1077.0 730.7,1075.0 730.9,1073.0 731.1,1071.0 731.3,1069.1 731.5,1067.1 731.7,1065.1 731.9,1063.1 732.1,1061.1 732.3,1059.1 732.5,1057.2 732.7,1055.2 732.9,1053.2 733.1,1051.2 733.3,1049.2 733.5,1047.2 733.7,1045.2 733.9,1043.2 734.1,1041.3 734.3,1039.3 734.5,1037.3 734.7,1035.3 734.9,1033.3 735.1,1031.3 735.3,1029.3 735.5,1027.3 735.7,1025.3 735.9,1023.3 736.1,1021.3 736.2,1019.4 736.4,1017.4 736.6,1015.4 736.8,1013.4 737.0,1011.4 737.2,1009.4 737.4,1007.4 737.5,1005.4 737.7,1003.4 737.9,1001.4 738.1,999.4 738.3,997.4 738.4,995.4 738.6,993.4 738.8,991.4 739.0,989.4 739.1,987.4 739.3,985.4 739.5,983.4 739.7,981.4 739.8,979.4 740.0,977.4 740.2,975.4 740.3,973.4 740.5,971.4 740.7,969.4 740.8,967.4 741.0,965.4 741.2,963.4 741.3,961.4 741.5,959.4 741.6,957.4 741.8,955.4 741.9,953.5 742.1,951.5 742.3,949.5 742.4,947.5 742.6,945.5 742.7,943.5 742.9,941.5 743.0,939.5 743.1,937.5 743.3,935.5 743.4,933.5 743.6,931.5 743.7,929.5 743.9,927.5 744.0,925.5 744.1,923.5 744.3,921.5 744.4,919.5 744.6,917.5 744.7,915.5 744.8,913.5 745.0,911.5 745.1,909.5 745.2,907.5 745.3,905.5 745.5,903.5 745.6,901.5 745.7,899.6 745.9,897.6 746.0,895.6 746.1,893.6 746.2,891.6 746.4,889.6 746.5,887.6 746.6,885.6 746.7,883.6 746.9,881.6 747.0,879.6 747.1,877.6 747.2,875.6 747.3,873.6 747.5,871.6 747.6,869.6 747.7,867.6 747.8,865.6 747.9,863.6 748.0,861.6 748.2,859.6 748.3,857.7 748.4,855.7 748.5,853.7 748.6,851.7 748.7,849.7 748.9,847.7 749.0,845.7 749.1,843.7 749.2,841.7 749.3,839.7 749.4,837.7 749.5,835.7 749.6,833.7 749.8,831.7 749.9,829.7 750.0,827.7 750.1,825.7 750.2,823.7 750.3,821.7 750.4,819.7 750.5,817.7 750.7,815.7 750.8,813.7 750.9,811.7 751.0,809.7 751.1,807.8 751.2,805.8 751.3,803.8 751.4,801.8 751.5,799.8 751.7,797.8 751.8,795.8 751.9,793.8 752.0,791.8 752.1,789.8 752.2,787.8 752.3,785.8 752.4,783.8 752.5,781.8 752.6,779.8 752.8,777.8 752.9,775.8 753.0,773.8 753.1,771.8 753.2,769.8 753.3,767.8 753.4,765.8 753.5,763.8 753.6,761.8 753.7,759.8 753.9,757.8 754.0,755.8 754.1,753.8 754.2,751.8 754.3,749.8 754.4,747.8 754.5,745.8 754.6,743.8 754.7,741.8 754.8,739.8 754.9,737.8 755.1,735.8 755.2,733.8 755.3,731.8 755.4,729.8 755.5,727.8 755.6,725.8 755.7,723.8 755.8,721.8 755.9,719.8 756.0,717.8 756.1,715.8 756.2,713.8 756.4,711.8 756.5,709.8 756.6,707.8 756.7,705.8 756.8,703.8 756.9,701.8 757.0,699.8 757.1,697.8 757.2,695.8 757.3,693.8 757.4,691.8 757.6,689.9 757.7,687.9 757.8,685.9 757.9,683.9 758.0,681.9 758.1,679.9 758.2,677.9 758.3,675.9 758.4,673.9 758.5,671.9 758.6,669.9 758.7,667.9 758.9,665.9 759.0,663.9 759.1,661.9 759.2,659.9 759.3,657.9 759.4,655.9 759.5,653.9 759.6,651.9 759.7,649.9 759.8,647.9 759.9,645.9 760.1,643.9 760.2,641.9 760.3,639.9 760.4,637.9 760.5,635.9 760.6,633.9 760.7,631.9 760.8,629.9 760.9,627.9 761.0,625.9 761.2,623.9 761.3,621.9 761.4,619.9 761.5,617.9 761.6,615.9 761.7,613.9 761.8,611.9 761.9,609.9 762.0,607.9 762.1,605.9 762.2,603.9 762.4,601.9 762.5,599.9 762.6,597.9 762.7,595.9 762.8,594.0 762.9,592.0 763.0,590.0 763.1,588.0 763.2,586.0 763.3,584.0 763.4,582.0 763.5,580.0 763.7,578.0 763.8,576.0 763.9,574.0 764.0,572.0 764.1,570.0 764.2,568.0 764.3,566.0 764.4,564.0 764.5,562.0 764.6,560.0 764.7,558.0 764.8,556.0 764.9,554.0 765.0,552.0 765.2,550.0 765.3,548.0 765.4,546.0 765.5,544.0 765.6,542.0 765.7,540.0 765.8,538.0 765.9,536.0 766.0,534.0 766.1,532.0 766.2,530.0 766.3,528.0 766.4,526.0 766.5,524.0 766.6,522.0 766.7,520.1 766.8,518.1 766.9,516.1 767.0,514.1 767.1,512.1 767.2,510.1 767.3,508.1 767.4,506.1 767.5,504.1 767.6,502.1 767.7,500.1 767.8,498.1 767.9,496.1 768.0,494.1 768.1,492.1 768.2,490.1 768.3,488.1 768.4,486.1 768.5,484.1 768.6,482.1 768.7,480.1 768.8,478.1 768.9,476.1 769.0,474.1 769.1,472.1 769.2,470.1 769.2,468.1 769.3,466.1 769.4,464.1 769.5,462.1 769.6,460.1 769.7,458.1 769.8,456.1 769.9,454.1 770.0,452.1 770.1,450.1 770.2,448.1 770.2,446.1 770.3,444.1 770.4,442.1 770.5,440.1 770.6,438.1 770.7,436.1 770.8,434.1 770.9,432.1 770.9,430.1 771.0,428.1 771.1,426.1 771.2,424.1 771.3,422.1 771.4,420.1 771.5,418.1 771.5,416.1 771.6,414.1 771.7,412.1 771.8,410.1 771.9,408.1 772.0,406.1 772.0,404.1 772.1,402.1 772.2,400.1 772.3,398.1 772.4,396.1 772.5,394.1 772.5,392.1 772.6,390.1 772.7,388.1 772.8,386.1 772.9,384.1 773.0,382.1 773.0,380.1 773.1,378.1 773.2,376.1 773.3,374.1 773.4,372.1 773.5,370.1 773.6,368.1 773.6,366.1 773.7,364.1 773.8,362.1 773.9,360.1 774.0,358.1 774.1,356.1 774.1,354.1 774.2,352.1 774.3,350.1 774.4,348.1 774.5,346.1 774.6,344.1 774.7,342.2 774.8,340.2 774.8,338.2 774.9,336.2 775.0,334.2 775.1,332.2 775.2,330.2 775.3,328.2 775.4,326.2 775.5,324.2 775.6,322.2 775.7,320.2 775.7,318.2 775.8,316.2 775.9,314.2 776.0,312.2 776.1,310.2 776.2,308.2 776.3,306.2 776.4,304.2 776.5,302.2 776.6,300.2 776.7,298.2 776.8,296.2 776.9,294.3 777.0,292.3 777.1,290.3 777.2,288.3 777.3,286.3 777.4,284.3 777.5,282.3 777.6,280.3 777.7,278.3 777.8,276.3 777.9,274.3 778.0,272.3 778.1,270.3 778.3,268.3 778.4,266.3 778.5,264.3 778.6,262.3 778.7,260.3 778.8,258.3 778.9,256.3 779.1,254.3 779.2,252.2 779.3,250.2 779.4,248.2 779.5,246.2 779.7,244.2 779.8,242.2 779.9,240.1 780.0,238.1 780.2,236.1 780.3,234.1 780.4,232.1 780.6,230.1 780.7,228.1 780.8,226.2 780.9,224.2 781.1,222.3 781.2,220.5 781.3,218.6 781.4,216.8 781.6,215.0 781.7,213.2 781.8,211.4 782.0,209.5 782.2,207.5 782.4,205.5 782.6,203.3 782.9,201.0 783.2,198.5 783.6,195.9 784.0,193.2 784.4,190.6 784.9,188.3 785.3,186.4 785.8,185.1 786.3,184.5 786.8,184.9 787.3,186.0 787.8,187.7 788.3,190.0 788.7,192.5 789.1,195.2 789.5,197.8 789.8,200.4 790.1,202.7 790.3,204.9 790.5,207.0 790.6,209.0 790.7,210.9 790.8,212.8 790.9,214.6 790.9,216.4 791.0,218.2 791.0,220.1 791.0,221.9 791.0,223.8 791.0,225.8 791.1,227.7 791.1,229.7 791.1,231.6 791.1,233.6 791.1,235.6 791.1,237.7 791.1,239.7 791.1,241.7 791.1,243.7 791.1,245.7 791.1,247.7 791.1,249.8 791.2,251.8 791.2,253.8 791.2,255.8 791.3,257.8 791.3,259.8 791.4,261.8 791.4,263.9 791.4,265.9 791.5,267.9 791.5,269.9 791.6,271.9 791.7,273.9 791.7,275.9 791.8,277.9 791.8,279.9 791.9,281.9 792.0,283.9 792.0,285.9 792.1,287.9 792.2,289.9 792.3,291.9 792.3,293.9 792.4,295.9 792.5,297.9 792.6,299.9 792.6,301.9 792.7,303.9 792.8,305.9 792.9,307.9 793.0,309.9 793.0,311.9 793.1,313.9 793.2,315.9 793.3,317.9 793.4,319.9 793.5,321.9 793.5,323.9 793.6,325.9 793.7,327.9 793.8,329.9 793.9,331.9 793.9,333.9 794.0,335.9 794.1,337.9 794.2,339.9 794.2,341.9 794.3,343.9 794.4,345.9 794.4,347.9 794.5,349.9 794.6,351.8 794.6,353.8 794.7,355.8 794.8,357.8 794.8,359.8 794.9,361.8 795.0,363.8 795.0,365.8 795.1,367.8 795.2,369.8 795.2,371.8 795.3,373.8 795.3,375.8 795.4,377.8 795.4,379.8 795.5,381.8 795.6,383.8 795.6,385.8 795.7,387.8 795.7,389.8 795.8,391.8 795.8,393.8 795.9,395.8 795.9,397.8 796.0,399.8 796.0,401.8 796.1,403.8 796.1,405.8 796.2,407.8 796.2,409.8 796.3,411.8 796.3,413.8 796.4,415.8 796.4,417.8 796.5,419.8 796.5,421.8 796.6,423.8 796.6,425.8 796.6,427.8 796.7,429.8 796.7,431.8 796.8,433.8 796.8,435.8 796.9,437.8 796.9,439.8 797.0,441.8 797.0,443.8 797.1,445.8 797.1,447.8 797.1,449.8 797.2,451.8 797.2,453.8 797.3,455.8 797.3,457.8 797.4,459.8 797.4,461.8 797.5,463.8 797.5,465.8 797.5,467.8 797.6,469.8 797.6,471.8 797.7,473.8 797.7,475.8 797.8,477.8 797.8,479.8 797.9,481.8 797.9,483.8 798.0,485.8 798.0,487.8 798.1,489.8 798.1,491.8 798.2,493.8 798.2,495.8 798.3,497.8 798.3,499.8 798.4,501.8 798.4,503.8 798.5,505.8 798.5,507.8 798.6,509.8 798.6,511.8 798.7,513.8 798.7,515.8 798.8,517.8 798.8,519.8 798.9,521.8 798.9,523.8 799.0,525.8 799.0,527.8 799.1,529.8 799.1,531.8 799.2,533.8 799.2,535.8 799.3,537.8 799.3,539.8 799.4,541.8 799.4,543.8 799.5,545.8 799.5,547.8 799.6,549.8 799.7,551.8 799.7,553.8 799.8,555.8 799.8,557.8 799.9,559.8 799.9,561.8 800.0,563.8 800.0,565.8 800.1,567.8 800.1,569.8 800.2,571.8 800.2,573.8 800.3,575.8 800.4,577.8 800.4,579.8 800.5,581.8 800.5,583.8 800.6,585.8 800.6,587.8 800.7,589.9 800.7,591.9 800.8,593.9 800.9,595.9 800.9,597.9 801.0,599.9 801.0,601.9 801.1,603.9 801.1,605.9 801.2,607.9 801.2,609.9 801.3,611.9 801.3,613.9 801.4,615.9 801.5,617.9 801.5,619.9 801.6,621.9 801.6,623.9 801.7,625.9 801.7,627.9 801.8,629.9 801.8,631.9 801.9,633.9 801.9,635.9 802.0,637.9 802.1,639.9 802.1,641.9 802.2,643.9 802.2,645.9 802.3,647.9 802.3,649.9 802.4,651.9 802.4,653.9 802.5,655.9 802.5,657.9 802.6,659.9 802.6,661.9 802.7,663.9 802.8,665.9 802.8,667.9 802.9,669.9 802.9,671.9 803.0,673.9 803.0,675.9 803.1,677.9 803.1,679.9 803.2,681.9 803.2,683.9 803.3,685.9 803.3,687.9 803.4,689.9 803.4,691.9 803.5,693.9 803.5,695.9 803.6,697.9 803.6,699.9 803.7,701.9 803.7,703.9 803.8,705.9 803.8,707.9 803.9,709.9 803.9,711.9 804.0,713.9 804.1,715.9 804.1,717.9 804.2,719.9 804.2,721.9 804.3,723.9 804.3,725.9 804.4,727.9 804.4,729.9 804.5,731.9 804.5,733.9 804.6,735.9 804.6,737.9 804.7,739.9 804.7,741.9 804.8,743.9 804.8,745.9 804.9,747.9 804.9,749.9 805.0,751.9 805.0,753.9 805.1,755.9 805.1,757.9 805.2,759.9 805.2,761.9 805.3,763.9 805.3,765.9 805.4,767.9 805.4,769.9 805.5,771.9 805.5,773.9 805.6,775.9 805.6,777.9 805.7,779.9 805.7,781.9 805.8,783.9 805.8,785.9 805.9,787.9 805.9,789.9 806.0,791.9 806.0,793.9 806.1,795.9 806.1,797.9 806.2,799.9 806.2,801.8 806.3,803.8 806.3,805.8 806.4,807.8 806.4,809.8 806.5,811.8 806.5,813.8 806.6,815.8 806.6,817.8 806.7,819.8 806.7,821.8 806.8,823.8 806.8,825.8 806.9,827.8 806.9,829.8 807.0,831.8 807.0,833.8 807.1,835.8 807.1,837.8 807.2,839.8 807.2,841.8 807.3,843.8 807.4,845.8 807.4,847.8 807.5,849.8 807.5,851.8 807.6,853.8 807.6,855.8 807.7,857.8 807.7,859.8 807.8,861.8 807.8,863.8 807.9,865.8 807.9,867.8 808.0,869.8 808.0,871.8 808.1,873.8 808.1,875.8 808.2,877.8 808.3,879.8 808.3,881.8 808.4,883.8 808.4,885.8 808.5,887.8 808.5,889.8 808.6,891.8 808.6,893.8 808.7,895.8 808.7,897.8 808.8,899.8 808.9,901.8 808.9,903.8 809.0,905.8 809.0,907.8 809.1,909.8 809.1,911.8 809.2,913.8 809.3,915.8 809.3,917.8 809.4,919.8 809.4,921.8 809.5,923.8 809.5,925.8 809.6,927.8 809.7,929.8 809.7,931.8 809.8,933.8 809.8,935.8 809.9,937.8 809.9,939.8 810.0,941.8 810.1,943.8 810.1,945.8 810.2,947.8 810.2,949.8 810.3,951.8 810.4,953.8 810.4,955.8 810.5,957.8 810.5,959.8 810.6,961.8 810.7,963.8 810.7,965.8 810.8,967.8 810.9,969.8 810.9,971.8 811.0,973.8 811.0,975.8 811.1,977.8 811.2,979.8 811.2,981.8 811.3,983.8 811.4,985.8 811.4,987.8 811.5,989.8 811.5,991.8 811.6,993.8 811.7,995.8 811.7,997.8 811.8,999.8 811.9,1001.8 811.9,1003.8 812.0,1005.8 812.1,1007.8 812.1,1009.8 812.2,1011.8 812.3,1013.8 812.3,1015.8 812.4,1017.8 812.5,1019.8 812.5,1021.8 812.6,1023.8 812.7,1025.8 812.8,1027.8 812.8,1029.8 812.9,1031.8 813.0,1033.8 813.0,1035.8 813.1,1037.8 813.2,1039.8 813.2,1041.8 813.3,1043.8 813.4,1045.8 813.5,1047.8 813.5,1049.8 813.6,1051.8 813.7,1053.8 813.8,1055.8 813.8,1057.8 813.9,1059.8 814.0,1061.8 814.1,1063.8 814.1,1065.8 814.2,1067.8 814.3,1069.8 814.4,1071.8 814.4,1073.8 814.5,1075.8 814.6,1077.8 814.7,1079.8 814.7,1081.8 814.8,1083.8 814.9,1085.8 815.0,1087.8 815.1,1089.8 815.1,1091.8 815.2,1093.8 815.3,1095.8 815.4,1097.8 815.5,1099.8 815.5,1101.8 815.6,1103.8 815.7,1105.8 815.8,1107.8 815.9,1109.8 815.9,1111.8 816.0,1113.8 816.1,1115.8 816.2,1117.8 816.3,1119.8 816.4,1121.8 816.5,1123.8 816.5,1125.8 816.6,1127.8 816.7,1129.8 816.8,1131.8 816.9,1133.8 817.0,1135.8 817.1,1137.8 817.2,1139.8 817.2,1141.8 817.3,1143.8 817.4,1145.8 817.5,1147.8 817.6,1149.8 817.7,1151.8 817.8,1153.8 817.9,1155.8 818.0,1157.8 818.1,1159.8 818.2,1161.8 818.3,1163.8 818.3,1165.8 818.4,1167.8 818.5,1169.8 818.6,1171.8 818.7,1173.8 818.8,1175.8 818.9,1177.8 819.0,1179.8 819.1,1181.8 819.2,1183.8 819.3,1185.8 819.4,1187.8 819.5,1189.8 819.6,1191.8 819.7,1193.8 819.8,1195.8 819.9,1197.8 820.0,1199.8 820.1,1201.8 820.2,1203.8 820.3,1205.8 820.4,1207.8 820.5,1209.8 820.6,1211.8 820.7,1213.8 820.8,1215.8 821.0,1217.8 821.1,1219.8 821.2,1221.8 821.3,1223.8 821.4,1225.8 821.5,1227.8 821.6,1229.8 821.7,1231.8 821.8,1233.8 821.9,1235.8 822.0,1237.8 822.2,1239.8 822.3,1241.8 822.4,1243.9 822.5,1245.9 822.6,1247.9 822.7,1249.9 822.9,1251.9 823.0,1253.9 823.1,1255.9 823.2,1257.9 823.4,1259.9 823.5,1261.9 823.6,1263.8 823.7,1265.8 823.9,1267.8 824.0,1269.8 824.2,1271.8 824.3,1273.8 824.4,1275.8 824.6,1277.8 824.7,1279.8 824.9,1281.8 825.0,1283.8 825.2,1285.8 825.3,1287.8 825.5,1289.8 825.6,1291.8 825.8,1293.8 826.0,1295.7 826.1,1297.7 826.3,1299.7 826.5,1301.7 826.7,1303.7 826.8,1305.7 827.0,1307.7 827.2,1309.6 827.4,1311.6 827.6,1313.6 827.8,1315.6 828.0,1317.6 828.2,1319.5 828.4,1321.5 828.6,1323.5 828.8,1325.5 829.0,1327.4 829.2,1329.4 829.4,1331.4 829.7,1333.4 829.9,1335.3 830.1,1337.3 830.4,1339.3 830.6,1341.2 830.9,1343.2 831.1,1345.2 831.4,1347.1 831.7,1349.1 831.9,1351.1 832.2,1353.0 832.5,1355.0 832.8,1357.0 833.1,1358.9 833.4,1360.9 833.7,1362.9 834.0,1364.8 834.3,1366.8 834.7,1368.8 835.0,1370.8 835.4,1372.7 835.7,1374.7 836.1,1376.7 836.5,1378.7 836.8,1380.7 837.2,1382.7 837.6,1384.7 838.0,1386.7 838.5,1388.7 838.9,1390.7 839.3,1392.7 839.8,1394.7 840.3,1396.7 840.8,1398.7 841.3,1400.7 841.8,1402.7 842.4,1404.7 843.1,1406.6 843.8,1408.5 844.6,1410.3 845.5,1412.0 846.5,1413.7 847.6,1415.4 848.8,1416.9 850.0,1418.4 851.3,1419.9 852.7,1421.2 854.1,1422.6 855.6,1423.8 857.1,1425.1 858.7,1426.2 860.4,1427.3 862.1,1428.4 863.8,1429.4 865.6,1430.3 867.4,1431.2 869.2,1432.1 871.0,1432.9 872.9,1433.7 874.8,1434.4 876.7,1435.1 878.6,1435.7 880.5,1436.3 882.4,1436.9 884.3,1437.4 886.3,1437.9 888.2,1438.3 890.2,1438.7 892.1,1439.1 894.1,1439.5 896.1,1439.8 898.1,1440.0 900.0,1440.3 902.0,1440.5 904.0,1440.7 906.0,1440.9 908.0,1441.0 910.0,1441.2 912.0,1441.3 914.1,1441.3 916.1,1441.4 918.1,1441.4 920.1,1441.5 922.1,1441.5 924.1,1441.4 926.2,1441.4 928.2,1441.4 930.2,1441.3 932.2,1441.3 934.2,1441.2 936.2,1441.1 938.2,1441.0 940.2,1440.9 942.2,1440.8 944.2,1440.7 946.2,1440.6 948.2,1440.5 950.2,1440.3 952.2,1440.2 954.2,1440.1 956.2,1439.9 958.2,1439.8 960.2,1439.7 962.2,1439.5 964.2,1439.4 966.1,1439.2 968.1,1439.1 970.1,1439.0 972.1,1438.8 974.1,1438.7 976.1,1438.6 978.1,1438.5 980.0,1438.4 982.0,1438.3 984.0,1438.2 986.0,1438.1 988.0,1438.0 990.0,1437.9 992.0,1437.8 994.0,1437.8 996.0,1437.7 998.0,1437.7 1000.0,1437.7 1002.0,1437.6 1004.0,1437.6 1006.0,1437.6 1008.0,1437.6 1010.0,1437.6 1012.0,1437.5 1014.0,1437.5 1016.0,1437.5 1018.0,1437.5 1020.0,1437.5 1022.0,1437.5 1024.0,1437.5 1026.0,1437.5 1028.0,1437.4 1030.0,1437.4 1032.0,1437.4 1034.0,1437.4 1036.0,1437.3 1038.0,1437.3 1040.0,1437.2 1042.0,1437.2 1044.0,1437.1 1046.0,1437.0 1048.0,1437.0 1050.0,1436.9 1052.0,1436.8 1054.0,1436.7 1056.0,1436.6 1058.0,1436.5 1060.0,1436.4 1062.0,1436.3 1064.0,1436.2 1066.0,1436.0 1068.0,1435.9 1070.0,1435.8 1072.0,1435.7 1074.0,1435.5 1076.0,1435.4 1078.0,1435.3 1080.0,1435.1 1082.0,1435.0 1084.0,1434.9 1086.0,1434.7 1088.0,1434.6 1090.0,1434.5 1092.0,1434.3 1094.0,1434.2 1096.0,1434.0 1098.0,1433.9 1100.0,1433.8 1102.0,1433.6 1104.0,1433.5 1106.0,1433.4 1108.0,1433.3 1110.0,1433.1 1112.0,1433.0 1114.0,1432.9 1116.0,1432.8 1118.0,1432.7 1120.0,1432.6 1122.0,1432.5 1124.0,1432.4 1126.0,1432.3 1128.0,1432.2 1130.0,1432.1 1132.0,1432.0 1134.0,1431.9 1136.0,1431.9 1138.0,1431.8 1140.0,1431.8 1142.0,1431.7 1144.0,1431.7 1146.0,1431.7 1148.0,1431.6 1150.0,1431.6 1151.9,1431.6 1153.9,1431.6 1155.9,1431.6 1157.9,1431.6 1159.9,1431.7 1161.9,1431.7 1163.9,1431.8 1165.9,1431.8 1167.9,1431.9 1169.9,1431.9 1171.9,1432.0 1173.9,1432.1 1175.9,1432.2 1177.9,1432.3 1179.9,1432.4 1181.9,1432.4 1183.9,1432.5 1185.9,1432.6 1187.9,1432.7 1189.9,1432.8 1191.9,1432.8 1193.9,1432.9 1195.9,1433.0 1197.9,1433.0 1199.9,1433.1 1201.9,1433.1 1203.9,1433.1 1205.9,1433.1 1208.0,1433.1 1210.0,1433.1 1212.0,1433.1 1214.0,1433.0 1216.0,1432.9 1218.0,1432.8 1220.0,1432.7 1222.0,1432.5 1223.9,1432.3 1225.9,1432.0 1227.8,1431.6 1229.8,1431.2 1231.7,1430.8 1233.6,1430.2 1235.4,1429.6 1237.3,1428.9 1239.1,1428.1 1240.8,1427.2 1242.6,1426.2 1244.3,1425.2 1246.0,1424.0 1247.7,1422.8 1249.3,1421.6 1251.0,1420.5 1252.8,1419.4 1254.5,1418.5 1256.3,1417.7 1258.2,1417.0 1260.2,1416.6 1262.2,1416.3 1264.2,1416.2 1266.2,1416.2 1268.3,1416.2 1270.3,1416.3 1272.3,1416.5 1274.3,1416.8 1276.3,1417.0 1278.3,1417.3 1280.3,1417.5 1282.3,1417.8 1284.3,1418.0 1286.3,1418.2 1288.2,1418.3 1290.2,1418.3 1292.2,1418.3 1294.1,1418.2 1296.1,1418.0 1298.0,1417.7 1300.0,1417.4 1301.9,1417.0 1303.9,1416.5 1305.8,1416.0 1307.7,1415.4 1309.7,1414.8 1311.6,1414.2 1313.5,1413.5 1315.4,1412.7 1317.3,1412.0 1319.2,1411.3 1321.1,1410.6 1323.1,1410.0 1325.0,1409.4 1326.9,1409.0 1328.8,1408.7 1330.8,1408.6 1332.8,1408.6 1334.7,1408.9 1336.7,1409.2 1338.7,1409.7 1340.6,1410.2 1342.6,1410.9 1344.5,1411.5 1346.3,1412.3 1348.2,1413.0 1350.0,1413.9 1351.8,1414.7 1353.6,1415.6 1355.4,1416.5 1357.2,1417.4 1358.9,1418.3 1360.7,1419.3 1362.4,1420.2 1364.2,1421.2 1365.9,1422.2 1367.6,1423.2 1369.4,1424.1 1371.1,1425.1 1372.9,1426.1 1374.7,1427.0 1376.5,1428.0 1378.3,1428.9 1380.1,1429.8 1381.9,1430.6 1383.7,1431.5 1385.6,1432.2 1387.5,1433.0 1389.4,1433.7 1391.3,1434.3 1393.2,1434.9 1395.1,1435.4 1397.0,1435.8 1399.0,1436.2 1400.9,1436.5 1402.9,1436.6 1404.9,1436.8 1406.9,1436.8 1408.8,1436.7 1410.9,1436.5 1412.9,1436.3 1414.9,1436.1 1416.9,1435.7 1418.9,1435.4 1420.9,1435.1 1423.0,1434.7 1425.0,1434.4 1427.0,1434.1 1429.0,1433.9 1431.0,1433.7 1432.9,1433.5 1434.9,1433.5 1436.9,1433.5 1438.8,1433.7 1440.7,1433.9 1442.6,1434.2 1444.6,1434.6 1446.5,1435.1 1448.4,1435.6 1450.3,1436.1 1452.2,1436.6 1454.1,1437.1 1456.1,1437.6 1458.0,1438.1 1460.0,1438.6 1462.0,1438.9 1464.1,1439.3 1466.1,1439.5 1468.2,1439.7 1470.2,1439.8 1472.3,1439.9 1474.3,1439.8 1476.4,1439.7 1478.4,1439.5 1480.4,1439.2 1482.3,1438.8 1484.2,1438.3 1486.1,1437.7 1487.9,1437.0 1489.7,1436.2 1491.4,1435.3 1493.0,1434.2 1494.6,1433.1 1496.1,1431.9 1497.5,1430.5 1498.9,1429.1 1500.2,1427.6 1501.4,1426.0 1502.6,1424.4 1503.8,1422.7 1504.9,1421.0 1506.0,1419.2 1507.0,1417.4 1508.0,1415.6 1509.0,1413.8 1509.9,1412.0 1510.9,1410.2 1511.8,1408.3 1512.6,1406.5 1513.5,1404.7 1514.4,1402.9 1515.2,1401.2 1516.0,1399.4 1516.8,1397.6 1517.5,1395.8 1518.3,1394.0 1519.0,1392.2 1519.7,1390.3 1520.4,1388.5 1521.1,1386.7 1521.7,1384.8 1522.3,1382.9 1522.9,1381.0 1523.5,1379.0 1524.1,1377.0 1524.6,1375.0 1525.2,1373.0 1525.8,1371.0 1526.4,1369.1 1527.1,1367.1 1527.8,1365.2 1528.5,1363.3 1529.3,1361.4 1530.2,1359.6 1531.2,1357.9 1532.3,1356.3 1533.5,1354.7 1534.8,1353.2 1536.3,1352.0 1537.8,1351.0 1539.5,1350.5 1541.3,1350.5 1543.1,1351.0 1544.7,1351.8 1546.1,1352.9 1547.4,1354.2 1548.6,1355.7 1549.6,1357.4 1550.5,1359.2 1551.4,1361.1 1552.2,1363.1 1552.9,1365.2 1553.6,1367.3 1554.3,1369.3 1555.0,1371.3 1555.7,1373.3 1556.4,1375.3 1557.0,1377.2 1557.7,1379.1 1558.3,1381.0 1558.9,1382.9 1559.6,1384.8 1560.2,1386.6 1560.8,1388.5 1561.5,1390.3 1562.1,1392.1 1562.7,1394.0 1563.4,1395.8 1564.0,1397.6 1564.6,1399.5 1565.3,1401.3 1565.9,1403.1 1566.6,1405.0 1567.3,1406.9 1568.0,1408.7 1568.7,1410.6 1569.4,1412.5 1570.1,1414.4 1570.9,1416.2 1571.6,1418.1 1572.4,1420.0 1573.3,1421.8 1574.1,1423.7 1575.0,1425.5 1575.9,1427.3 1576.9,1429.1 1577.8,1430.8 1578.9,1432.6 1579.9,1434.3 1581.0,1436.0 1582.2,1437.7 1583.3,1439.3 1584.6,1440.9 1585.9,1442.5 1587.2,1444.0 1588.6,1445.5 1590.0,1446.9 1591.5,1448.2 1593.1,1449.4 1594.7,1450.6 1596.3,1451.7 1598.1,1452.6 1599.8,1453.5 1601.7,1454.2 1603.6,1454.8 1605.5,1455.4 1607.5,1455.9 1609.4,1456.3 1611.4,1456.8 1613.3,1457.2 1615.3,1457.6 1617.2,1458.0 1619.2,1458.3 1621.2,1458.7 1623.2,1459.0 1625.1,1459.3 1627.1,1459.5 1629.1,1459.8 1631.1,1460.0 1633.1,1460.2 1635.1,1460.5 1637.1,1460.7 1639.0,1460.8 1641.0,1461.0 1643.0,1461.2 1645.0,1461.3 1647.0,1461.5 1649.0,1461.6 1651.0,1461.8 1653.0,1461.9 1655.0,1462.0 1657.0,1462.1 1659.0,1462.3 1661.0,1462.4 1663.0,1462.5 1665.0,1462.6 1667.0,1462.7 1669.0,1462.8 1671.0,1462.9 1673.0,1463.1 1675.0,1463.2 1677.0,1463.3 1679.0,1463.4 1681.0,1463.4 1683.0,1463.5 1685.0,1463.6 1687.0,1463.7 1689.0,1463.8 1691.0,1463.9 1693.0,1464.0 1695.0,1464.0 1697.0,1464.1 1699.0,1464.2 1701.0,1464.3 1703.0,1464.3 1705.0,1464.4 1707.0,1464.5 1709.0,1464.5 1711.0,1464.6 1713.0,1464.7 1715.0,1464.7 1717.0,1464.8 1719.0,1464.8 1721.0,1464.9 1723.0,1465.0 1725.0,1465.0 1727.0,1465.1 1729.0,1465.1 1731.0,1465.2 1733.0,1465.2 1735.0,1465.2 1737.0,1465.3 1739.0,1465.3 1741.0,1465.4 1743.0,1465.4 1745.0,1465.4 1747.0,1465.5 1749.0,1465.5 1751.0,1465.6 1753.0,1465.6 1755.0,1465.6 1757.0,1465.7 1759.0,1465.7 1761.0,1465.7 1763.0,1465.7 1765.0,1465.8 1767.0,1465.8 1769.0,1465.8 1771.0,1465.8 1773.0,1465.9 1775.0,1465.9 1777.0,1465.9 1779.0,1465.9 1781.0,1466.0 1783.0,1466.0 1785.0,1466.0 1787.0,1466.0 1789.0,1466.1 1791.0,1466.1 1793.0,1466.1 1795.0,1466.1 1797.0,1466.1 1799.0,1466.2 1801.0,1466.2 1803.0,1466.2 1805.0,1466.2 1807.0,1466.2 1809.0,1466.2 1811.0,1466.3 1813.0,1466.3 1815.0,1466.3 1817.0,1466.3 1819.0,1466.3 1821.0,1466.4 1823.0,1466.4 1825.0,1466.4 1827.0,1466.4 1829.0,1466.4 1831.0,1466.5 1833.0,1466.5 1835.0,1466.5 1837.0,1466.5 1839.0,1466.6 1841.0,1466.6 1843.0,1466.6 1845.0,1466.6 1847.0,1466.7 1849.0,1466.7 1851.0,1466.7" fill="none" stroke="#7F2CA3" stroke-width="11.5" stroke-linejoin="round" stroke-linecap="butt"/>
<g font-family="Liberation Sans, Arial, sans-serif" font-weight="bold" font-size="58" fill="#000"><text x="0" y="0" transform="translate(202,1495.0) scale(1,1.04)" text-anchor="end">0</text>
<text x="0" y="0" transform="translate(202,1261.7) scale(1,1.04)" text-anchor="end">4</text>
<text x="0" y="0" transform="translate(202,1028.3) scale(1,1.04)" text-anchor="end">8</text>
<text x="0" y="0" transform="translate(202,795.0) scale(1,1.04)" text-anchor="end">12</text>
<text x="0" y="0" transform="translate(202,561.7) scale(1,1.04)" text-anchor="end">16</text>
<text x="0" y="0" transform="translate(202,328.3) scale(1,1.04)" text-anchor="end">20</text>
<text x="0" y="0" transform="translate(202,95.0) scale(1,1.04)" text-anchor="end">24</text>
<text x="0" y="0" transform="translate(252.5,1565) scale(1,1.04)" text-anchor="middle">300</text>
<text x="0" y="0" transform="translate(650.3,1565) scale(1,1.04)" text-anchor="middle">400</text>
<text x="0" y="0" transform="translate(1048.0,1565) scale(1,1.04)" text-anchor="middle">500</text>
<text x="0" y="0" transform="translate(1445.8,1565) scale(1,1.04)" text-anchor="middle">600</text>
<text x="0" y="0" transform="translate(1843.6,1565) scale(1,1.04)" text-anchor="middle">700</text></g>
<text transform="translate(861.7,1662.8) scale(1,1.04)" font-family="Liberation Sans, Arial, sans-serif" font-weight="bold" font-size="66.7" fill="#000">Wavelength (nm)</text>
<line x1="1152" y1="351.9" x2="1312" y2="351.9" stroke="#FF0000" stroke-width="11.8" stroke-linecap="round"/>
<text transform="translate(1328.5,371.1) scale(1,1.035)" font-family="Liberation Sans, Arial, sans-serif" font-weight="bold" font-size="62.8" fill="#000">0 equiv TFA</text>
<line x1="1152" y1="482.1" x2="1312" y2="482.1" stroke="#00B050" stroke-width="11.8" stroke-linecap="round"/>
<text transform="translate(1328.5,501.3) scale(1,1.035)" font-family="Liberation Sans, Arial, sans-serif" font-weight="bold" font-size="62.8" fill="#000">20 equiv TFA</text>
<line x1="1152" y1="612.4" x2="1312" y2="612.4" stroke="#00B0F0" stroke-width="11.8" stroke-linecap="round"/>
<text transform="translate(1328.5,631.6) scale(1,1.035)" font-family="Liberation Sans, Arial, sans-serif" font-weight="bold" font-size="62.8" fill="#000">50 equiv TFA</text>
<line x1="1152" y1="742.6" x2="1312" y2="742.6" stroke="#0070C0" stroke-width="11.8" stroke-linecap="round"/>
<text transform="translate(1328.5,761.9) scale(1,1.035)" font-family="Liberation Sans, Arial, sans-serif" font-weight="bold" font-size="62.8" fill="#000">100 equiv TFA</text>
<line x1="1152" y1="872.9" x2="1312" y2="872.9" stroke="#7F2CA3" stroke-width="11.8" stroke-linecap="round"/>
<text transform="translate(1328.5,892.1) scale(1,1.035)" font-family="Liberation Sans, Arial, sans-serif" font-weight="bold" font-size="62.8" fill="#000">300 equiv TFA</text>
<g transform="translate(83,841.6) rotate(-90)" fill="#000"><text x="-1.5" y="1.5" font-size="66.0" font-family="DejaVu Serif, serif" font-weight="bold" font-stretch="condensed" font-style="italic">ε</text>
<text transform="translate(41.86,0.00) scale(0.892,1)" font-size="59.0" font-family="DejaVu Sans Condensed, DejaVu Sans, sans-serif" font-weight="bold" font-stretch="condensed" >x</text>
<text x="86.6" y="0.0" font-size="59.0" font-family="DejaVu Sans Condensed, DejaVu Sans, sans-serif" font-weight="bold" font-stretch="condensed" >1</text>
<text transform="translate(120.21,0.00) scale(0.940,1)" font-size="59.0" font-family="DejaVu Sans Condensed, DejaVu Sans, sans-serif" font-weight="bold" font-stretch="condensed" >0</text>
<text transform="translate(153.41,-22.70) scale(1.118,1)" font-size="30.0" font-family="DejaVu Sans Condensed, DejaVu Sans, sans-serif" font-weight="bold" font-stretch="condensed" >−</text>
<text x="176.0" y="-20.0" font-size="40.0" font-family="DejaVu Sans Condensed, DejaVu Sans, sans-serif" font-weight="bold" font-stretch="condensed" >4</text>
<text transform="translate(215.23,0.00) scale(1.137,1)" font-size="59.0" font-family="DejaVu Sans Condensed, DejaVu Sans, sans-serif" font-weight="bold" font-stretch="condensed" >M</text>
<text transform="translate(272.41,-22.70) scale(1.118,1)" font-size="30.0" font-family="DejaVu Sans Condensed, DejaVu Sans, sans-serif" font-weight="bold" font-stretch="condensed" >−</text>
<text x="294.1" y="-20.0" font-size="40.0" font-family="DejaVu Sans Condensed, DejaVu Sans, sans-serif" font-weight="bold" font-stretch="condensed" >1</text>
<text x="317.8" y="0.0" font-size="59.0" font-family="DejaVu Sans Condensed, DejaVu Sans, sans-serif" font-weight="bold" font-stretch="condensed" >c</text>
<text x="345.3" y="0.0" font-size="59.0" font-family="DejaVu Sans Condensed, DejaVu Sans, sans-serif" font-weight="bold" font-stretch="condensed" >m</text>
<text transform="translate(398.41,-22.70) scale(1.118,1)" font-size="30.0" font-family="DejaVu Sans Condensed, DejaVu Sans, sans-serif" font-weight="bold" font-stretch="condensed" >−</text>
<text x="420.5" y="-20.0" font-size="40.0" font-family="DejaVu Sans Condensed, DejaVu Sans, sans-serif" font-weight="bold" font-stretch="condensed" >1</text></g>
</svg>
</body></html>
